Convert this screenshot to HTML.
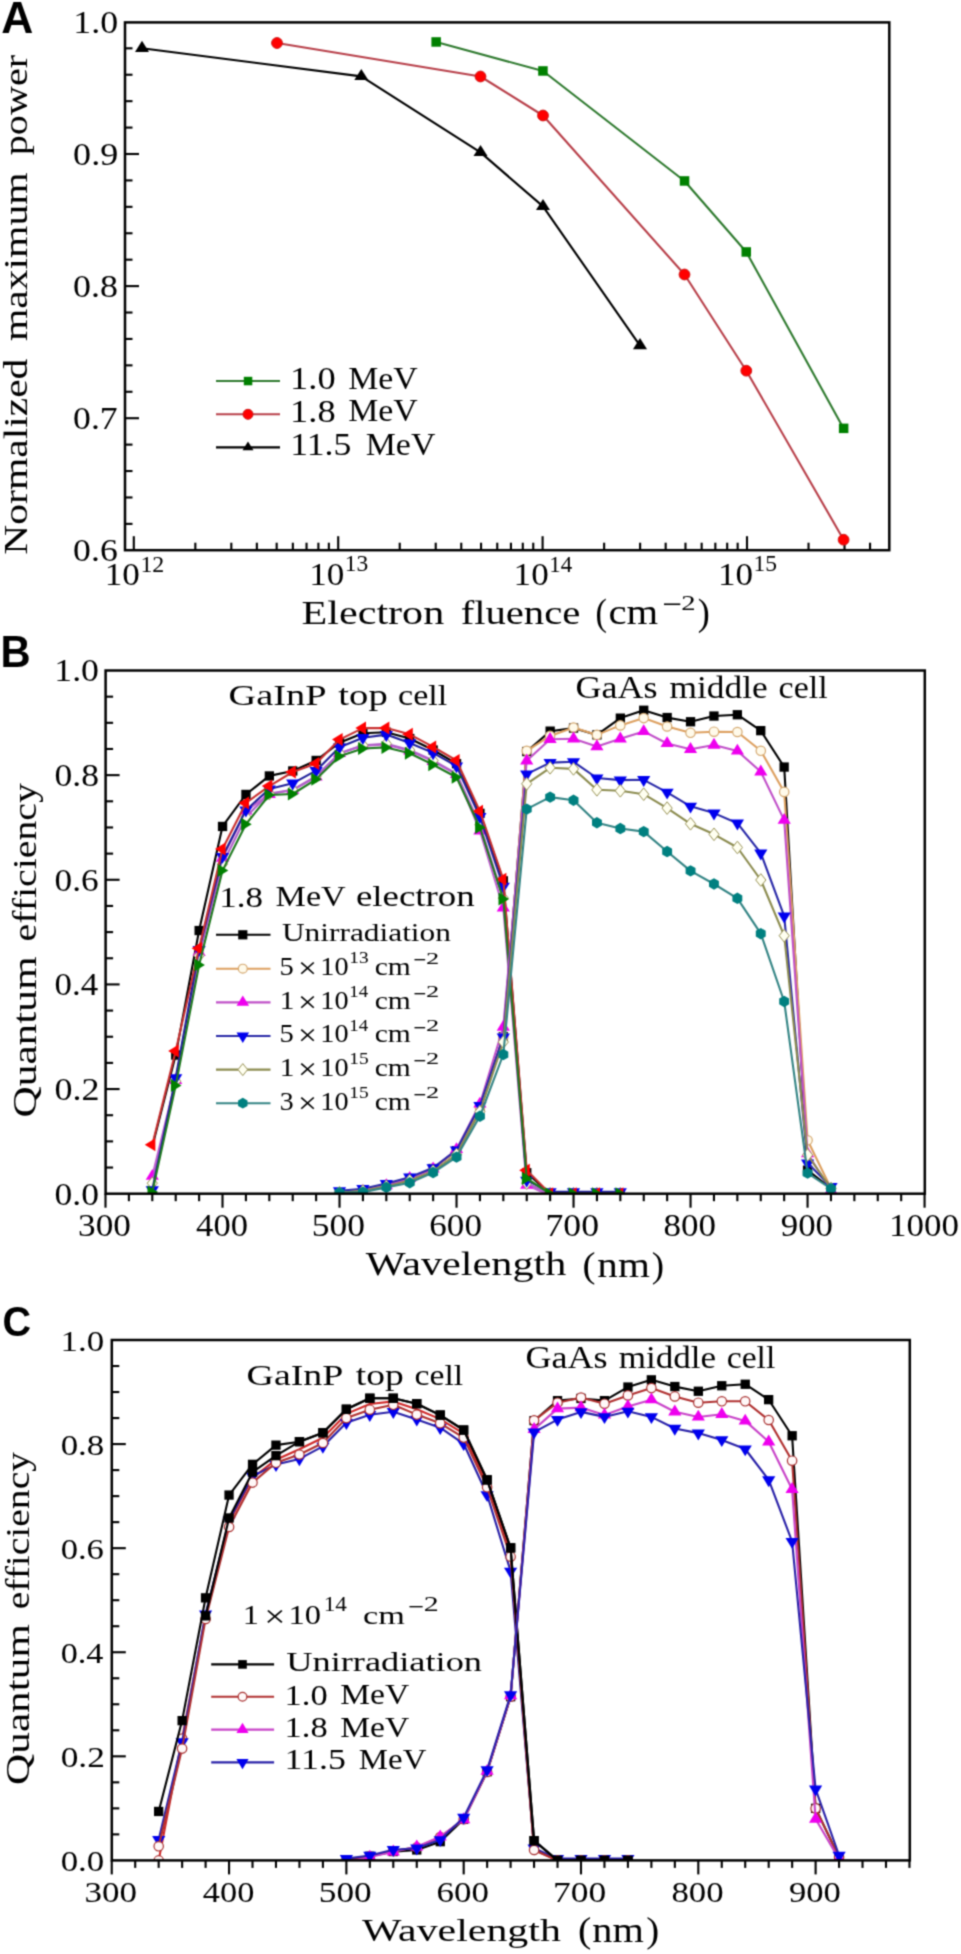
<!DOCTYPE html>
<html><head><meta charset="utf-8"><style>html,body{margin:0;padding:0;background:#fff;overflow:hidden;}svg{display:block;}</style></head>
<body><svg width="961" height="1954" viewBox="0 0 961 1954">
<defs><filter id="bl" filterUnits="userSpaceOnUse" x="0" y="0" width="961" height="1954" color-interpolation-filters="sRGB"><feConvolveMatrix order="3" kernelMatrix="0.0400 0.1200 0.0400 0.1200 0.3600 0.1200 0.0400 0.1200 0.0400" divisor="1" edgeMode="duplicate"/></filter></defs><g filter="url(#bl)"><rect x="0" y="0" width="961" height="1954" fill="#fff"/>
<text x="1.29" y="32.50" font-family='"Liberation Sans", sans-serif' font-weight="bold" font-size="43.75" textLength="32.08" lengthAdjust="spacingAndGlyphs" fill="#000">A</text>
<rect x="125.0" y="22.4" width="764.3" height="527.8" fill="none" stroke="#000" stroke-width="2.5"/>
<line x1="125.00" y1="523.88" x2="132.50" y2="523.88" stroke="#000" stroke-width="2.10"/>
<line x1="125.00" y1="497.46" x2="132.50" y2="497.46" stroke="#000" stroke-width="2.10"/>
<line x1="125.00" y1="471.04" x2="132.50" y2="471.04" stroke="#000" stroke-width="2.10"/>
<line x1="125.00" y1="444.62" x2="132.50" y2="444.62" stroke="#000" stroke-width="2.10"/>
<line x1="125.00" y1="418.20" x2="139.00" y2="418.20" stroke="#000" stroke-width="2.10"/>
<line x1="125.00" y1="391.78" x2="132.50" y2="391.78" stroke="#000" stroke-width="2.10"/>
<line x1="125.00" y1="365.36" x2="132.50" y2="365.36" stroke="#000" stroke-width="2.10"/>
<line x1="125.00" y1="338.94" x2="132.50" y2="338.94" stroke="#000" stroke-width="2.10"/>
<line x1="125.00" y1="312.52" x2="132.50" y2="312.52" stroke="#000" stroke-width="2.10"/>
<line x1="125.00" y1="286.10" x2="139.00" y2="286.10" stroke="#000" stroke-width="2.10"/>
<line x1="125.00" y1="259.68" x2="132.50" y2="259.68" stroke="#000" stroke-width="2.10"/>
<line x1="125.00" y1="233.26" x2="132.50" y2="233.26" stroke="#000" stroke-width="2.10"/>
<line x1="125.00" y1="206.84" x2="132.50" y2="206.84" stroke="#000" stroke-width="2.10"/>
<line x1="125.00" y1="180.42" x2="132.50" y2="180.42" stroke="#000" stroke-width="2.10"/>
<line x1="125.00" y1="154.00" x2="139.00" y2="154.00" stroke="#000" stroke-width="2.10"/>
<line x1="125.00" y1="127.58" x2="132.50" y2="127.58" stroke="#000" stroke-width="2.10"/>
<line x1="125.00" y1="101.16" x2="132.50" y2="101.16" stroke="#000" stroke-width="2.10"/>
<line x1="125.00" y1="74.74" x2="132.50" y2="74.74" stroke="#000" stroke-width="2.10"/>
<line x1="125.00" y1="48.32" x2="132.50" y2="48.32" stroke="#000" stroke-width="2.10"/>
<text x="73.25" y="32.76" font-family='"Liberation Serif", serif' font-size="30.92" textLength="44.82" lengthAdjust="spacingAndGlyphs" fill="#000">1.0</text>
<text x="73.13" y="164.86" font-family='"Liberation Serif", serif' font-size="30.92" textLength="45.05" lengthAdjust="spacingAndGlyphs" fill="#000">0.9</text>
<text x="73.13" y="296.96" font-family='"Liberation Serif", serif' font-size="30.92" textLength="44.94" lengthAdjust="spacingAndGlyphs" fill="#000">0.8</text>
<text x="73.14" y="429.06" font-family='"Liberation Serif", serif' font-size="30.92" textLength="44.59" lengthAdjust="spacingAndGlyphs" fill="#000">0.7</text>
<text x="73.14" y="561.16" font-family='"Liberation Serif", serif' font-size="30.92" textLength="44.62" lengthAdjust="spacingAndGlyphs" fill="#000">0.6</text>
<line x1="133.80" y1="550.20" x2="133.80" y2="536.20" stroke="#000" stroke-width="2.10"/>
<line x1="195.33" y1="550.20" x2="195.33" y2="542.70" stroke="#000" stroke-width="2.10"/>
<line x1="231.32" y1="550.20" x2="231.32" y2="542.70" stroke="#000" stroke-width="2.10"/>
<line x1="256.86" y1="550.20" x2="256.86" y2="542.70" stroke="#000" stroke-width="2.10"/>
<line x1="276.67" y1="550.20" x2="276.67" y2="542.70" stroke="#000" stroke-width="2.10"/>
<line x1="292.85" y1="550.20" x2="292.85" y2="542.70" stroke="#000" stroke-width="2.10"/>
<line x1="306.54" y1="550.20" x2="306.54" y2="542.70" stroke="#000" stroke-width="2.10"/>
<line x1="318.39" y1="550.20" x2="318.39" y2="542.70" stroke="#000" stroke-width="2.10"/>
<line x1="328.85" y1="550.20" x2="328.85" y2="542.70" stroke="#000" stroke-width="2.10"/>
<line x1="338.20" y1="550.20" x2="338.20" y2="536.20" stroke="#000" stroke-width="2.10"/>
<line x1="399.73" y1="550.20" x2="399.73" y2="542.70" stroke="#000" stroke-width="2.10"/>
<line x1="435.72" y1="550.20" x2="435.72" y2="542.70" stroke="#000" stroke-width="2.10"/>
<line x1="461.26" y1="550.20" x2="461.26" y2="542.70" stroke="#000" stroke-width="2.10"/>
<line x1="481.07" y1="550.20" x2="481.07" y2="542.70" stroke="#000" stroke-width="2.10"/>
<line x1="497.25" y1="550.20" x2="497.25" y2="542.70" stroke="#000" stroke-width="2.10"/>
<line x1="510.94" y1="550.20" x2="510.94" y2="542.70" stroke="#000" stroke-width="2.10"/>
<line x1="522.79" y1="550.20" x2="522.79" y2="542.70" stroke="#000" stroke-width="2.10"/>
<line x1="533.25" y1="550.20" x2="533.25" y2="542.70" stroke="#000" stroke-width="2.10"/>
<line x1="542.60" y1="550.20" x2="542.60" y2="536.20" stroke="#000" stroke-width="2.10"/>
<line x1="604.13" y1="550.20" x2="604.13" y2="542.70" stroke="#000" stroke-width="2.10"/>
<line x1="640.12" y1="550.20" x2="640.12" y2="542.70" stroke="#000" stroke-width="2.10"/>
<line x1="665.66" y1="550.20" x2="665.66" y2="542.70" stroke="#000" stroke-width="2.10"/>
<line x1="685.47" y1="550.20" x2="685.47" y2="542.70" stroke="#000" stroke-width="2.10"/>
<line x1="701.65" y1="550.20" x2="701.65" y2="542.70" stroke="#000" stroke-width="2.10"/>
<line x1="715.34" y1="550.20" x2="715.34" y2="542.70" stroke="#000" stroke-width="2.10"/>
<line x1="727.19" y1="550.20" x2="727.19" y2="542.70" stroke="#000" stroke-width="2.10"/>
<line x1="737.65" y1="550.20" x2="737.65" y2="542.70" stroke="#000" stroke-width="2.10"/>
<line x1="747.00" y1="550.20" x2="747.00" y2="536.20" stroke="#000" stroke-width="2.10"/>
<line x1="808.53" y1="550.20" x2="808.53" y2="542.70" stroke="#000" stroke-width="2.10"/>
<line x1="844.52" y1="550.20" x2="844.52" y2="542.70" stroke="#000" stroke-width="2.10"/>
<line x1="870.06" y1="550.20" x2="870.06" y2="542.70" stroke="#000" stroke-width="2.10"/>
<text x="104.81" y="585.39" font-family='"Liberation Serif", serif' font-size="31.27" textLength="35.12" lengthAdjust="spacingAndGlyphs" fill="#000">10</text>
<text x="140.40" y="571.70" font-family='"Liberation Serif", serif' font-size="23.11" textLength="23.92" lengthAdjust="spacingAndGlyphs" fill="#000">12</text>
<text x="309.21" y="585.39" font-family='"Liberation Serif", serif' font-size="31.27" textLength="35.12" lengthAdjust="spacingAndGlyphs" fill="#000">10</text>
<text x="344.84" y="571.48" font-family='"Liberation Serif", serif' font-size="22.77" textLength="23.48" lengthAdjust="spacingAndGlyphs" fill="#000">13</text>
<text x="513.61" y="585.39" font-family='"Liberation Serif", serif' font-size="31.27" textLength="35.12" lengthAdjust="spacingAndGlyphs" fill="#000">10</text>
<text x="549.29" y="571.70" font-family='"Liberation Serif", serif' font-size="23.18" textLength="22.87" lengthAdjust="spacingAndGlyphs" fill="#000">14</text>
<text x="718.01" y="585.39" font-family='"Liberation Serif", serif' font-size="31.27" textLength="35.12" lengthAdjust="spacingAndGlyphs" fill="#000">10</text>
<text x="753.64" y="571.48" font-family='"Liberation Serif", serif' font-size="22.84" textLength="23.48" lengthAdjust="spacingAndGlyphs" fill="#000">15</text>
<text x="301.59" y="624.26" font-family='"Liberation Serif", serif' font-size="34.32" textLength="142.65" lengthAdjust="spacingAndGlyphs" fill="#000">Electron</text>
<text x="460.65" y="624.26" font-family='"Liberation Serif", serif' font-size="34.32" textLength="119.66" lengthAdjust="spacingAndGlyphs" fill="#000">fluence</text>
<text x="595.49" y="625.25" font-family='"Liberation Serif", serif' font-size="37.83" textLength="11.41" lengthAdjust="spacingAndGlyphs" fill="#000">(</text>
<text x="608.45" y="624.45" font-family='"Liberation Serif", serif' font-size="35.97" textLength="49.68" lengthAdjust="spacingAndGlyphs" fill="#000">cm</text>
<text x="661.96" y="615.37" font-family='"Liberation Serif", serif' font-size="32.13" textLength="19.75" lengthAdjust="spacingAndGlyphs" fill="#000">−</text>
<text x="681.24" y="610.00" font-family='"Liberation Serif", serif' font-size="21.45" textLength="14.34" lengthAdjust="spacingAndGlyphs" fill="#000">2</text>
<text x="697.83" y="625.25" font-family='"Liberation Serif", serif' font-size="37.83" textLength="12.06" lengthAdjust="spacingAndGlyphs" fill="#000">)</text>
<text transform="translate(26.62,554.70) rotate(-90)" x="0" y="0" font-family='"Liberation Serif", serif' font-size="33.75" textLength="196.10" lengthAdjust="spacingAndGlyphs" fill="#000">Normalized</text>
<text transform="translate(26.62,341.07) rotate(-90)" x="0" y="0" font-family='"Liberation Serif", serif' font-size="33.75" textLength="168.72" lengthAdjust="spacingAndGlyphs" fill="#000">maximum</text>
<text transform="translate(26.62,155.25) rotate(-90)" x="0" y="0" font-family='"Liberation Serif", serif' font-size="33.75" textLength="100.50" lengthAdjust="spacingAndGlyphs" fill="#000">power</text>
<polyline points="436.2,42.0 543.0,71.0 684.5,181.0 746.3,252.0 843.6,428.4" fill="none" stroke="#2f7a2f" stroke-width="2.10" stroke-linejoin="round"/>
<polyline points="277.0,43.0 480.5,76.5 543.0,115.5 684.5,274.5 746.3,370.7 843.6,539.7" fill="none" stroke="#b8404a" stroke-width="2.10" stroke-linejoin="round"/>
<polyline points="142.0,48.3 361.3,76.4 480.5,152.4 543.0,206.4 640.0,345.6" fill="none" stroke="#000" stroke-width="2.10" stroke-linejoin="round"/>
<rect x="431.4" y="37.2" width="9.5" height="9.5" fill="#008000"/>
<rect x="538.2" y="66.2" width="9.5" height="9.5" fill="#008000"/>
<rect x="679.8" y="176.2" width="9.5" height="9.5" fill="#008000"/>
<rect x="741.5" y="247.2" width="9.5" height="9.5" fill="#008000"/>
<rect x="838.9" y="423.6" width="9.5" height="9.5" fill="#008000"/>
<circle cx="277.0" cy="43.0" r="5.4" fill="#ff0000" stroke="#d01818" stroke-width="1"/>
<circle cx="480.5" cy="76.5" r="5.4" fill="#ff0000" stroke="#d01818" stroke-width="1"/>
<circle cx="543.0" cy="115.5" r="5.4" fill="#ff0000" stroke="#d01818" stroke-width="1"/>
<circle cx="684.5" cy="274.5" r="5.4" fill="#ff0000" stroke="#d01818" stroke-width="1"/>
<circle cx="746.3" cy="370.7" r="5.4" fill="#ff0000" stroke="#d01818" stroke-width="1"/>
<circle cx="843.6" cy="539.7" r="5.4" fill="#ff0000" stroke="#d01818" stroke-width="1"/>
<polygon points="142.0,40.8 149.0,52.0 135.0,52.0" fill="#000"/>
<polygon points="361.3,68.9 368.3,80.1 354.3,80.1" fill="#000"/>
<polygon points="480.5,144.9 487.5,156.1 473.5,156.1" fill="#000"/>
<polygon points="543.0,198.9 550.0,210.1 536.0,210.1" fill="#000"/>
<polygon points="640.0,338.1 647.0,349.3 633.0,349.3" fill="#000"/>
<line x1="216.00" y1="381.00" x2="280.00" y2="381.00" stroke="#2f7a2f" stroke-width="2.10"/>
<rect x="243.8" y="376.8" width="8.5" height="8.5" fill="#008000"/>
<line x1="216.00" y1="414.30" x2="280.00" y2="414.30" stroke="#b8404a" stroke-width="2.10"/>
<circle cx="248.0" cy="414.3" r="5" fill="#ff0000" stroke="#d01818" stroke-width="1"/>
<line x1="216.00" y1="447.40" x2="280.00" y2="447.40" stroke="#000" stroke-width="2.10"/>
<polygon points="248.0,441.5 253.5,450.3 242.5,450.3" fill="#000"/>
<text x="290.10" y="389.37" font-family='"Liberation Serif", serif' font-size="30.62" textLength="45.48" lengthAdjust="spacingAndGlyphs" fill="#000">1.0</text>
<text x="348.23" y="388.73" font-family='"Liberation Serif", serif' font-size="31.35" textLength="69.56" lengthAdjust="spacingAndGlyphs" fill="#000">MeV</text>
<text x="290.10" y="422.07" font-family='"Liberation Serif", serif' font-size="30.62" textLength="45.48" lengthAdjust="spacingAndGlyphs" fill="#000">1.8</text>
<text x="348.23" y="421.43" font-family='"Liberation Serif", serif' font-size="31.35" textLength="69.56" lengthAdjust="spacingAndGlyphs" fill="#000">MeV</text>
<text x="290.23" y="455.37" font-family='"Liberation Serif", serif' font-size="30.70" textLength="61.14" lengthAdjust="spacingAndGlyphs" fill="#000">11.5</text>
<text x="365.72" y="454.73" font-family='"Liberation Serif", serif' font-size="31.20" textLength="69.66" lengthAdjust="spacingAndGlyphs" fill="#000">MeV</text>
<text x="0.61" y="666.90" font-family='"Liberation Sans", sans-serif' font-weight="bold" font-size="43.46" textLength="30.08" lengthAdjust="spacingAndGlyphs" fill="#000">B</text>
<line x1="105.60" y1="1167.54" x2="113.10" y2="1167.54" stroke="#000" stroke-width="2.10"/>
<line x1="105.60" y1="1141.38" x2="113.10" y2="1141.38" stroke="#000" stroke-width="2.10"/>
<line x1="105.60" y1="1115.22" x2="113.10" y2="1115.22" stroke="#000" stroke-width="2.10"/>
<line x1="105.60" y1="1089.06" x2="119.60" y2="1089.06" stroke="#000" stroke-width="2.10"/>
<line x1="105.60" y1="1062.90" x2="113.10" y2="1062.90" stroke="#000" stroke-width="2.10"/>
<line x1="105.60" y1="1036.74" x2="113.10" y2="1036.74" stroke="#000" stroke-width="2.10"/>
<line x1="105.60" y1="1010.58" x2="113.10" y2="1010.58" stroke="#000" stroke-width="2.10"/>
<line x1="105.60" y1="984.42" x2="119.60" y2="984.42" stroke="#000" stroke-width="2.10"/>
<line x1="105.60" y1="958.26" x2="113.10" y2="958.26" stroke="#000" stroke-width="2.10"/>
<line x1="105.60" y1="932.10" x2="113.10" y2="932.10" stroke="#000" stroke-width="2.10"/>
<line x1="105.60" y1="905.94" x2="113.10" y2="905.94" stroke="#000" stroke-width="2.10"/>
<line x1="105.60" y1="879.78" x2="119.60" y2="879.78" stroke="#000" stroke-width="2.10"/>
<line x1="105.60" y1="853.62" x2="113.10" y2="853.62" stroke="#000" stroke-width="2.10"/>
<line x1="105.60" y1="827.46" x2="113.10" y2="827.46" stroke="#000" stroke-width="2.10"/>
<line x1="105.60" y1="801.30" x2="113.10" y2="801.30" stroke="#000" stroke-width="2.10"/>
<line x1="105.60" y1="775.14" x2="119.60" y2="775.14" stroke="#000" stroke-width="2.10"/>
<line x1="105.60" y1="748.98" x2="113.10" y2="748.98" stroke="#000" stroke-width="2.10"/>
<line x1="105.60" y1="722.82" x2="113.10" y2="722.82" stroke="#000" stroke-width="2.10"/>
<line x1="105.60" y1="696.66" x2="113.10" y2="696.66" stroke="#000" stroke-width="2.10"/>
<text x="54.55" y="1204.56" font-family='"Liberation Serif", serif' font-size="30.77" textLength="44.41" lengthAdjust="spacingAndGlyphs" fill="#000">0.0</text>
<text x="54.53" y="1099.92" font-family='"Liberation Serif", serif' font-size="30.77" textLength="45.06" lengthAdjust="spacingAndGlyphs" fill="#000">0.2</text>
<text x="54.57" y="995.28" font-family='"Liberation Serif", serif' font-size="30.77" textLength="43.57" lengthAdjust="spacingAndGlyphs" fill="#000">0.4</text>
<text x="54.56" y="890.64" font-family='"Liberation Serif", serif' font-size="30.77" textLength="44.09" lengthAdjust="spacingAndGlyphs" fill="#000">0.6</text>
<text x="54.55" y="786.00" font-family='"Liberation Serif", serif' font-size="30.77" textLength="44.41" lengthAdjust="spacingAndGlyphs" fill="#000">0.8</text>
<text x="54.26" y="681.36" font-family='"Liberation Serif", serif' font-size="30.77" textLength="44.71" lengthAdjust="spacingAndGlyphs" fill="#000">1.0</text>
<line x1="105.50" y1="1193.70" x2="105.50" y2="1207.70" stroke="#000" stroke-width="2.10"/>
<line x1="128.90" y1="1193.70" x2="128.90" y2="1201.20" stroke="#000" stroke-width="2.10"/>
<line x1="152.30" y1="1193.70" x2="152.30" y2="1201.20" stroke="#000" stroke-width="2.10"/>
<line x1="175.71" y1="1193.70" x2="175.71" y2="1201.20" stroke="#000" stroke-width="2.10"/>
<line x1="199.11" y1="1193.70" x2="199.11" y2="1201.20" stroke="#000" stroke-width="2.10"/>
<line x1="222.51" y1="1193.70" x2="222.51" y2="1207.70" stroke="#000" stroke-width="2.10"/>
<line x1="245.91" y1="1193.70" x2="245.91" y2="1201.20" stroke="#000" stroke-width="2.10"/>
<line x1="269.31" y1="1193.70" x2="269.31" y2="1201.20" stroke="#000" stroke-width="2.10"/>
<line x1="292.72" y1="1193.70" x2="292.72" y2="1201.20" stroke="#000" stroke-width="2.10"/>
<line x1="316.12" y1="1193.70" x2="316.12" y2="1201.20" stroke="#000" stroke-width="2.10"/>
<line x1="339.52" y1="1193.70" x2="339.52" y2="1207.70" stroke="#000" stroke-width="2.10"/>
<line x1="362.92" y1="1193.70" x2="362.92" y2="1201.20" stroke="#000" stroke-width="2.10"/>
<line x1="386.32" y1="1193.70" x2="386.32" y2="1201.20" stroke="#000" stroke-width="2.10"/>
<line x1="409.73" y1="1193.70" x2="409.73" y2="1201.20" stroke="#000" stroke-width="2.10"/>
<line x1="433.13" y1="1193.70" x2="433.13" y2="1201.20" stroke="#000" stroke-width="2.10"/>
<line x1="456.53" y1="1193.70" x2="456.53" y2="1207.70" stroke="#000" stroke-width="2.10"/>
<line x1="479.93" y1="1193.70" x2="479.93" y2="1201.20" stroke="#000" stroke-width="2.10"/>
<line x1="503.33" y1="1193.70" x2="503.33" y2="1201.20" stroke="#000" stroke-width="2.10"/>
<line x1="526.74" y1="1193.70" x2="526.74" y2="1201.20" stroke="#000" stroke-width="2.10"/>
<line x1="550.14" y1="1193.70" x2="550.14" y2="1201.20" stroke="#000" stroke-width="2.10"/>
<line x1="573.54" y1="1193.70" x2="573.54" y2="1207.70" stroke="#000" stroke-width="2.10"/>
<line x1="596.94" y1="1193.70" x2="596.94" y2="1201.20" stroke="#000" stroke-width="2.10"/>
<line x1="620.34" y1="1193.70" x2="620.34" y2="1201.20" stroke="#000" stroke-width="2.10"/>
<line x1="643.75" y1="1193.70" x2="643.75" y2="1201.20" stroke="#000" stroke-width="2.10"/>
<line x1="667.15" y1="1193.70" x2="667.15" y2="1201.20" stroke="#000" stroke-width="2.10"/>
<line x1="690.55" y1="1193.70" x2="690.55" y2="1207.70" stroke="#000" stroke-width="2.10"/>
<line x1="713.95" y1="1193.70" x2="713.95" y2="1201.20" stroke="#000" stroke-width="2.10"/>
<line x1="737.35" y1="1193.70" x2="737.35" y2="1201.20" stroke="#000" stroke-width="2.10"/>
<line x1="760.76" y1="1193.70" x2="760.76" y2="1201.20" stroke="#000" stroke-width="2.10"/>
<line x1="784.16" y1="1193.70" x2="784.16" y2="1201.20" stroke="#000" stroke-width="2.10"/>
<line x1="807.56" y1="1193.70" x2="807.56" y2="1207.70" stroke="#000" stroke-width="2.10"/>
<line x1="830.96" y1="1193.70" x2="830.96" y2="1201.20" stroke="#000" stroke-width="2.10"/>
<line x1="854.36" y1="1193.70" x2="854.36" y2="1201.20" stroke="#000" stroke-width="2.10"/>
<line x1="877.77" y1="1193.70" x2="877.77" y2="1201.20" stroke="#000" stroke-width="2.10"/>
<line x1="901.17" y1="1193.70" x2="901.17" y2="1201.20" stroke="#000" stroke-width="2.10"/>
<line x1="924.57" y1="1193.70" x2="924.57" y2="1207.70" stroke="#000" stroke-width="2.10"/>
<text x="78.11" y="1236.28" font-family='"Liberation Serif", serif' font-size="32.31" textLength="52.83" lengthAdjust="spacingAndGlyphs" fill="#000">300</text>
<text x="196.14" y="1236.28" font-family='"Liberation Serif", serif' font-size="32.31" textLength="51.79" lengthAdjust="spacingAndGlyphs" fill="#000">400</text>
<text x="311.76" y="1236.28" font-family='"Liberation Serif", serif' font-size="32.31" textLength="53.21" lengthAdjust="spacingAndGlyphs" fill="#000">500</text>
<text x="429.32" y="1236.28" font-family='"Liberation Serif", serif' font-size="32.31" textLength="52.64" lengthAdjust="spacingAndGlyphs" fill="#000">600</text>
<text x="545.49" y="1236.28" font-family='"Liberation Serif", serif' font-size="32.31" textLength="53.51" lengthAdjust="spacingAndGlyphs" fill="#000">700</text>
<text x="663.52" y="1236.28" font-family='"Liberation Serif", serif' font-size="32.31" textLength="52.46" lengthAdjust="spacingAndGlyphs" fill="#000">800</text>
<text x="780.74" y="1236.28" font-family='"Liberation Serif", serif' font-size="32.31" textLength="52.25" lengthAdjust="spacingAndGlyphs" fill="#000">900</text>
<text x="889.13" y="1236.28" font-family='"Liberation Serif", serif' font-size="32.31" textLength="69.90" lengthAdjust="spacingAndGlyphs" fill="#000">1000</text>
<text transform="translate(35.66,1117.47) rotate(-90)" x="0" y="0" font-family='"Liberation Serif", serif' font-size="34.02" textLength="161.05" lengthAdjust="spacingAndGlyphs" fill="#000">Quantum</text>
<text transform="translate(35.66,941.45) rotate(-90)" x="0" y="0" font-family='"Liberation Serif", serif' font-size="34.02" textLength="158.30" lengthAdjust="spacingAndGlyphs" fill="#000">efficiency</text>
<text x="365.76" y="1275.26" font-family='"Liberation Serif", serif' font-size="33.53" textLength="200.59" lengthAdjust="spacingAndGlyphs" fill="#000">Wavelength</text>
<text x="582.49" y="1277.18" font-family='"Liberation Serif", serif' font-size="36.73" textLength="12.97" lengthAdjust="spacingAndGlyphs" fill="#000">(</text>
<text x="597.36" y="1277.18" font-family='"Liberation Serif", serif' font-size="36.73" textLength="52.48" lengthAdjust="spacingAndGlyphs" fill="#000">nm</text>
<text x="651.81" y="1277.18" font-family='"Liberation Serif", serif' font-size="36.73" textLength="12.32" lengthAdjust="spacingAndGlyphs" fill="#000">)</text>
<text x="228.63" y="704.85" font-family='"Liberation Serif", serif' font-size="30.05" textLength="97.91" lengthAdjust="spacingAndGlyphs" fill="#000">GaInP</text>
<text x="338.37" y="704.85" font-family='"Liberation Serif", serif' font-size="30.05" textLength="49.39" lengthAdjust="spacingAndGlyphs" fill="#000">top</text>
<text x="398.11" y="704.85" font-family='"Liberation Serif", serif' font-size="30.05" textLength="49.08" lengthAdjust="spacingAndGlyphs" fill="#000">cell</text>
<text x="575.42" y="697.70" font-family='"Liberation Serif", serif' font-size="30.56" textLength="82.08" lengthAdjust="spacingAndGlyphs" fill="#000">GaAs</text>
<text x="669.56" y="697.70" font-family='"Liberation Serif", serif' font-size="30.56" textLength="98.07" lengthAdjust="spacingAndGlyphs" fill="#000">middle</text>
<text x="778.61" y="697.70" font-family='"Liberation Serif", serif' font-size="30.56" textLength="48.97" lengthAdjust="spacingAndGlyphs" fill="#000">cell</text>
<clipPath id="clipB"><rect x="105.6" y="670.5" width="819.2" height="523.2"/></clipPath><g clip-path="url(#clipB)">
<polyline points="152.3,1146.6 175.7,1055.1 199.1,930.5 222.5,826.4 245.9,794.5 269.3,775.9 292.7,771.0 316.1,760.5 339.5,742.7 362.9,733.3 386.3,732.2 409.7,738.5 433.1,750.0 456.5,763.6 479.9,813.3 503.3,880.8 526.7,1172.8 550.1,1193.7 573.5,1193.7 596.9,1193.7 620.3,1193.7" fill="none" stroke="#000" stroke-width="2.10" stroke-linejoin="round"/>
<rect x="171.1" y="1050.4" width="9.3" height="9.3" fill="#000"/>
<rect x="194.5" y="925.9" width="9.3" height="9.3" fill="#000"/>
<rect x="217.9" y="821.8" width="9.3" height="9.3" fill="#000"/>
<rect x="241.3" y="789.8" width="9.3" height="9.3" fill="#000"/>
<rect x="264.7" y="771.3" width="9.3" height="9.3" fill="#000"/>
<rect x="288.1" y="766.3" width="9.3" height="9.3" fill="#000"/>
<rect x="311.5" y="755.8" width="9.3" height="9.3" fill="#000"/>
<rect x="334.9" y="738.1" width="9.3" height="9.3" fill="#000"/>
<rect x="358.3" y="728.6" width="9.3" height="9.3" fill="#000"/>
<rect x="381.7" y="727.6" width="9.3" height="9.3" fill="#000"/>
<rect x="405.1" y="733.9" width="9.3" height="9.3" fill="#000"/>
<rect x="428.5" y="745.4" width="9.3" height="9.3" fill="#000"/>
<rect x="451.9" y="759.0" width="9.3" height="9.3" fill="#000"/>
<rect x="475.3" y="808.7" width="9.3" height="9.3" fill="#000"/>
<rect x="498.7" y="876.2" width="9.3" height="9.3" fill="#000"/>
<rect x="522.1" y="1168.1" width="9.3" height="9.3" fill="#000"/>
<rect x="545.5" y="1189.0" width="9.3" height="9.3" fill="#000"/>
<rect x="568.9" y="1189.0" width="9.3" height="9.3" fill="#000"/>
<rect x="592.3" y="1189.0" width="9.3" height="9.3" fill="#000"/>
<rect x="615.7" y="1189.0" width="9.3" height="9.3" fill="#000"/>
<polyline points="152.3,1176.2 175.7,1080.4 199.1,952.2 222.5,858.1 245.9,811.0 269.3,794.2 292.7,790.0 316.1,777.0 339.5,753.4 362.9,745.6 386.3,744.5 409.7,750.8 433.1,761.3 456.5,774.3 479.9,830.8 503.3,907.8 526.7,1185.1 550.1,1195.5 573.5,1195.5 596.9,1195.5 620.3,1195.5" fill="none" stroke="#c060d0" stroke-width="2.10" stroke-linejoin="round"/>
<polygon points="152.3,1168.9 158.9,1179.8 145.7,1179.8" fill="#ee00ee"/>
<polygon points="175.7,1073.1 182.3,1084.0 169.1,1084.0" fill="#ee00ee"/>
<polygon points="199.1,945.0 205.7,955.9 192.5,955.9" fill="#ee00ee"/>
<polygon points="222.5,850.8 229.1,861.7 215.9,861.7" fill="#ee00ee"/>
<polygon points="245.9,803.7 252.5,814.6 239.3,814.6" fill="#ee00ee"/>
<polygon points="269.3,787.0 275.9,797.9 262.7,797.9" fill="#ee00ee"/>
<polygon points="292.7,782.8 299.3,793.7 286.1,793.7" fill="#ee00ee"/>
<polygon points="316.1,769.7 322.7,780.6 309.5,780.6" fill="#ee00ee"/>
<polygon points="339.5,746.1 346.1,757.0 332.9,757.0" fill="#ee00ee"/>
<polygon points="362.9,738.3 369.5,749.2 356.3,749.2" fill="#ee00ee"/>
<polygon points="386.3,737.3 392.9,748.2 379.7,748.2" fill="#ee00ee"/>
<polygon points="409.7,743.5 416.3,754.4 403.1,754.4" fill="#ee00ee"/>
<polygon points="433.1,754.0 439.7,764.9 426.5,764.9" fill="#ee00ee"/>
<polygon points="456.5,767.1 463.1,778.0 449.9,778.0" fill="#ee00ee"/>
<polygon points="479.9,823.6 486.5,834.5 473.3,834.5" fill="#ee00ee"/>
<polygon points="503.3,900.5 509.9,911.4 496.7,911.4" fill="#ee00ee"/>
<polygon points="526.7,1177.8 533.3,1188.7 520.1,1188.7" fill="#ee00ee"/>
<polygon points="550.1,1188.2 556.7,1199.2 543.5,1199.2" fill="#ee00ee"/>
<polygon points="573.5,1188.2 580.1,1199.2 566.9,1199.2" fill="#ee00ee"/>
<polygon points="596.9,1188.2 603.5,1199.2 590.3,1199.2" fill="#ee00ee"/>
<polygon points="620.3,1188.2 626.9,1199.2 613.7,1199.2" fill="#ee00ee"/>
<polyline points="152.3,1183.2 175.7,1081.2 199.1,955.6 222.5,864.1 245.9,817.0 269.3,793.5 292.7,789.8 316.1,776.2 339.5,753.2 362.9,745.3 386.3,743.7 409.7,750.0 433.1,760.5 456.5,773.6 479.9,824.8 503.3,898.1 526.7,1183.2 550.1,1193.7 573.5,1193.7 596.9,1193.7 620.3,1193.7" fill="none" stroke="#b060c8" stroke-width="2.10" stroke-linejoin="round"/>
<polygon points="152.3,1176.9 157.4,1183.2 152.3,1189.5 147.2,1183.2" fill="#fffff0" stroke="#9a9458" stroke-width="1.0"/>
<polygon points="175.7,1074.9 180.8,1081.2 175.7,1087.5 170.6,1081.2" fill="#fffff0" stroke="#9a9458" stroke-width="1.0"/>
<polygon points="199.1,949.3 204.2,955.6 199.1,961.9 194.0,955.6" fill="#fffff0" stroke="#9a9458" stroke-width="1.0"/>
<polygon points="222.5,857.8 227.6,864.1 222.5,870.4 217.4,864.1" fill="#fffff0" stroke="#9a9458" stroke-width="1.0"/>
<polygon points="245.9,810.7 251.0,817.0 245.9,823.3 240.8,817.0" fill="#fffff0" stroke="#9a9458" stroke-width="1.0"/>
<polygon points="269.3,787.2 274.4,793.5 269.3,799.8 264.2,793.5" fill="#fffff0" stroke="#9a9458" stroke-width="1.0"/>
<polygon points="292.7,783.5 297.8,789.8 292.7,796.1 287.6,789.8" fill="#fffff0" stroke="#9a9458" stroke-width="1.0"/>
<polygon points="316.1,769.9 321.2,776.2 316.1,782.5 311.0,776.2" fill="#fffff0" stroke="#9a9458" stroke-width="1.0"/>
<polygon points="339.5,746.9 344.6,753.2 339.5,759.5 334.4,753.2" fill="#fffff0" stroke="#9a9458" stroke-width="1.0"/>
<polygon points="362.9,739.0 368.0,745.3 362.9,751.6 357.8,745.3" fill="#fffff0" stroke="#9a9458" stroke-width="1.0"/>
<polygon points="386.3,737.4 391.4,743.7 386.3,750.0 381.2,743.7" fill="#fffff0" stroke="#9a9458" stroke-width="1.0"/>
<polygon points="409.7,743.7 414.8,750.0 409.7,756.3 404.6,750.0" fill="#fffff0" stroke="#9a9458" stroke-width="1.0"/>
<polygon points="433.1,754.2 438.2,760.5 433.1,766.8 428.0,760.5" fill="#fffff0" stroke="#9a9458" stroke-width="1.0"/>
<polygon points="456.5,767.3 461.6,773.6 456.5,779.9 451.4,773.6" fill="#fffff0" stroke="#9a9458" stroke-width="1.0"/>
<polygon points="479.9,818.5 485.0,824.8 479.9,831.1 474.8,824.8" fill="#fffff0" stroke="#9a9458" stroke-width="1.0"/>
<polygon points="503.3,891.8 508.4,898.1 503.3,904.4 498.2,898.1" fill="#fffff0" stroke="#9a9458" stroke-width="1.0"/>
<polygon points="526.7,1176.9 531.8,1183.2 526.7,1189.5 521.6,1183.2" fill="#fffff0" stroke="#9a9458" stroke-width="1.0"/>
<polygon points="550.1,1187.4 555.2,1193.7 550.1,1200.0 545.0,1193.7" fill="#fffff0" stroke="#9a9458" stroke-width="1.0"/>
<polygon points="573.5,1187.4 578.6,1193.7 573.5,1200.0 568.4,1193.7" fill="#fffff0" stroke="#9a9458" stroke-width="1.0"/>
<polygon points="596.9,1187.4 602.0,1193.7 596.9,1200.0 591.8,1193.7" fill="#fffff0" stroke="#9a9458" stroke-width="1.0"/>
<polygon points="620.3,1187.4 625.4,1193.7 620.3,1200.0 615.2,1193.7" fill="#fffff0" stroke="#9a9458" stroke-width="1.0"/>
<polyline points="152.3,1189.8 175.7,1077.8 199.1,949.6 222.5,856.5 245.9,810.2 269.3,789.0 292.7,783.3 316.1,770.7 339.5,747.2 362.9,737.7 386.3,734.6 409.7,743.0 433.1,752.9 456.5,766.0 479.9,816.7 503.3,886.3 526.7,1180.4 550.1,1191.9 573.5,1191.9 596.9,1191.9 620.3,1191.9" fill="none" stroke="#20209a" stroke-width="2.10" stroke-linejoin="round"/>
<polygon points="152.3,1197.1 158.9,1186.2 145.7,1186.2" fill="#0000ee"/>
<polygon points="175.7,1085.1 182.3,1074.2 169.1,1074.2" fill="#0000ee"/>
<polygon points="199.1,956.9 205.7,946.0 192.5,946.0" fill="#0000ee"/>
<polygon points="222.5,863.8 229.1,852.9 215.9,852.9" fill="#0000ee"/>
<polygon points="245.9,817.5 252.5,806.6 239.3,806.6" fill="#0000ee"/>
<polygon points="269.3,796.3 275.9,785.4 262.7,785.4" fill="#0000ee"/>
<polygon points="292.7,790.5 299.3,779.6 286.1,779.6" fill="#0000ee"/>
<polygon points="316.1,778.0 322.7,767.1 309.5,767.1" fill="#0000ee"/>
<polygon points="339.5,754.4 346.1,743.5 332.9,743.5" fill="#0000ee"/>
<polygon points="362.9,745.0 369.5,734.1 356.3,734.1" fill="#0000ee"/>
<polygon points="386.3,741.9 392.9,731.0 379.7,731.0" fill="#0000ee"/>
<polygon points="409.7,750.2 416.3,739.3 403.1,739.3" fill="#0000ee"/>
<polygon points="433.1,760.2 439.7,749.3 426.5,749.3" fill="#0000ee"/>
<polygon points="456.5,773.3 463.1,762.4 449.9,762.4" fill="#0000ee"/>
<polygon points="479.9,824.0 486.5,813.1 473.3,813.1" fill="#0000ee"/>
<polygon points="503.3,893.6 509.9,882.7 496.7,882.7" fill="#0000ee"/>
<polygon points="526.7,1187.6 533.3,1176.7 520.1,1176.7" fill="#0000ee"/>
<polygon points="550.1,1199.2 556.7,1188.2 543.5,1188.2" fill="#0000ee"/>
<polygon points="573.5,1199.2 580.1,1188.2 566.9,1188.2" fill="#0000ee"/>
<polygon points="596.9,1199.2 603.5,1188.2 590.3,1188.2" fill="#0000ee"/>
<polygon points="620.3,1199.2 626.9,1188.2 613.7,1188.2" fill="#0000ee"/>
<polyline points="152.3,1144.8 175.7,1050.9 199.1,948.3 222.5,848.9 245.9,802.9 269.3,786.1 292.7,772.0 316.1,763.6 339.5,739.6 362.9,728.1 386.3,728.1 409.7,734.3 433.1,746.9 456.5,760.5 479.9,811.2 503.3,879.3 526.7,1170.2 550.1,1193.7 573.5,1193.7 596.9,1193.7 620.3,1193.7" fill="none" stroke="#c83030" stroke-width="2.10" stroke-linejoin="round"/>
<polygon points="144.8,1144.8 155.4,1138.3 155.4,1151.3" fill="#ff0000"/>
<polygon points="168.2,1050.9 178.8,1044.4 178.8,1057.4" fill="#ff0000"/>
<polygon points="191.6,948.3 202.2,941.8 202.2,954.8" fill="#ff0000"/>
<polygon points="215.0,848.9 225.6,842.4 225.6,855.4" fill="#ff0000"/>
<polygon points="238.4,802.9 249.0,796.4 249.0,809.4" fill="#ff0000"/>
<polygon points="261.8,786.1 272.4,779.6 272.4,792.6" fill="#ff0000"/>
<polygon points="285.2,772.0 295.8,765.5 295.8,778.5" fill="#ff0000"/>
<polygon points="308.6,763.6 319.2,757.1 319.2,770.1" fill="#ff0000"/>
<polygon points="332.0,739.6 342.6,733.1 342.6,746.1" fill="#ff0000"/>
<polygon points="355.4,728.1 366.0,721.6 366.0,734.6" fill="#ff0000"/>
<polygon points="378.8,728.1 389.4,721.6 389.4,734.6" fill="#ff0000"/>
<polygon points="402.2,734.3 412.8,727.8 412.8,740.8" fill="#ff0000"/>
<polygon points="425.6,746.9 436.2,740.4 436.2,753.4" fill="#ff0000"/>
<polygon points="449.0,760.5 459.6,754.0 459.6,767.0" fill="#ff0000"/>
<polygon points="472.4,811.2 483.0,804.7 483.0,817.7" fill="#ff0000"/>
<polygon points="495.8,879.3 506.4,872.8 506.4,885.8" fill="#ff0000"/>
<polygon points="519.2,1170.2 529.8,1163.7 529.8,1176.7" fill="#ff0000"/>
<polygon points="542.6,1193.7 553.2,1187.2 553.2,1200.2" fill="#ff0000"/>
<polygon points="566.0,1193.7 576.6,1187.2 576.6,1200.2" fill="#ff0000"/>
<polygon points="589.4,1193.7 600.0,1187.2 600.0,1200.2" fill="#ff0000"/>
<polygon points="612.8,1193.7 623.4,1187.2 623.4,1200.2" fill="#ff0000"/>
<polyline points="152.3,1192.1 175.7,1085.4 199.1,965.1 222.5,870.6 245.9,824.3 269.3,795.0 292.7,794.0 316.1,779.3 339.5,756.3 362.9,748.5 386.3,747.4 409.7,753.2 433.1,764.7 456.5,777.2 479.9,827.5 503.3,899.1 526.7,1178.5 550.1,1193.7 573.5,1193.7 596.9,1193.7 620.3,1193.7" fill="none" stroke="#1f7a1f" stroke-width="2.10" stroke-linejoin="round"/>
<polygon points="158.1,1192.1 147.5,1185.6 147.5,1198.6" fill="#008000"/>
<polygon points="181.5,1085.4 170.9,1078.9 170.9,1091.9" fill="#008000"/>
<polygon points="204.9,965.1 194.3,958.6 194.3,971.6" fill="#008000"/>
<polygon points="228.3,870.6 217.7,864.1 217.7,877.1" fill="#008000"/>
<polygon points="251.7,824.3 241.1,817.8 241.1,830.8" fill="#008000"/>
<polygon points="275.1,795.0 264.5,788.5 264.5,801.5" fill="#008000"/>
<polygon points="298.5,794.0 287.9,787.5 287.9,800.5" fill="#008000"/>
<polygon points="321.9,779.3 311.3,772.8 311.3,785.8" fill="#008000"/>
<polygon points="345.3,756.3 334.7,749.8 334.7,762.8" fill="#008000"/>
<polygon points="368.7,748.5 358.1,742.0 358.1,755.0" fill="#008000"/>
<polygon points="392.1,747.4 381.5,740.9 381.5,753.9" fill="#008000"/>
<polygon points="415.5,753.2 404.9,746.7 404.9,759.7" fill="#008000"/>
<polygon points="438.9,764.7 428.3,758.2 428.3,771.2" fill="#008000"/>
<polygon points="462.3,777.2 451.7,770.7 451.7,783.7" fill="#008000"/>
<polygon points="485.7,827.5 475.1,821.0 475.1,834.0" fill="#008000"/>
<polygon points="509.1,899.1 498.5,892.6 498.5,905.6" fill="#008000"/>
<polygon points="532.5,1178.5 521.9,1172.0 521.9,1185.0" fill="#008000"/>
<polygon points="555.9,1193.7 545.3,1187.2 545.3,1200.2" fill="#008000"/>
<polygon points="579.3,1193.7 568.7,1187.2 568.7,1200.2" fill="#008000"/>
<polygon points="602.7,1193.7 592.1,1187.2 592.1,1200.2" fill="#008000"/>
<polygon points="626.1,1193.7 615.5,1187.2 615.5,1200.2" fill="#008000"/>
<polyline points="339.5,1192.7 362.9,1190.6 386.3,1184.8 409.7,1178.5 433.1,1168.6 456.5,1150.8 479.9,1107.4 503.3,1036.7 526.7,751.6 550.1,731.2 573.5,728.1 596.9,734.9 620.3,718.1 643.7,710.3 667.1,717.6 690.5,721.8 714.0,716.0 737.4,714.7 760.8,730.7 784.2,767.0 807.6,1170.2 831.0,1188.5" fill="none" stroke="#000" stroke-width="2.10" stroke-linejoin="round"/>
<rect x="334.9" y="1188.0" width="9.3" height="9.3" fill="#000"/>
<rect x="358.3" y="1185.9" width="9.3" height="9.3" fill="#000"/>
<rect x="381.7" y="1180.2" width="9.3" height="9.3" fill="#000"/>
<rect x="405.1" y="1173.9" width="9.3" height="9.3" fill="#000"/>
<rect x="428.5" y="1163.9" width="9.3" height="9.3" fill="#000"/>
<rect x="451.9" y="1146.1" width="9.3" height="9.3" fill="#000"/>
<rect x="475.3" y="1102.7" width="9.3" height="9.3" fill="#000"/>
<rect x="498.7" y="1032.1" width="9.3" height="9.3" fill="#000"/>
<rect x="522.1" y="746.9" width="9.3" height="9.3" fill="#000"/>
<rect x="545.5" y="726.5" width="9.3" height="9.3" fill="#000"/>
<rect x="568.9" y="723.4" width="9.3" height="9.3" fill="#000"/>
<rect x="592.3" y="730.2" width="9.3" height="9.3" fill="#000"/>
<rect x="615.7" y="713.5" width="9.3" height="9.3" fill="#000"/>
<rect x="639.1" y="705.6" width="9.3" height="9.3" fill="#000"/>
<rect x="662.5" y="712.9" width="9.3" height="9.3" fill="#000"/>
<rect x="685.9" y="717.1" width="9.3" height="9.3" fill="#000"/>
<rect x="709.3" y="711.4" width="9.3" height="9.3" fill="#000"/>
<rect x="732.7" y="710.1" width="9.3" height="9.3" fill="#000"/>
<rect x="756.1" y="726.0" width="9.3" height="9.3" fill="#000"/>
<rect x="779.5" y="762.4" width="9.3" height="9.3" fill="#000"/>
<rect x="802.9" y="1165.5" width="9.3" height="9.3" fill="#000"/>
<rect x="826.3" y="1183.8" width="9.3" height="9.3" fill="#000"/>
<polyline points="339.5,1192.7 362.9,1190.0 386.3,1184.8 409.7,1178.5 433.1,1168.6 456.5,1150.8 479.9,1107.4 503.3,1036.7 526.7,750.8 550.1,735.9 573.5,727.5 596.9,734.9 620.3,725.4 643.7,718.1 667.1,726.5 690.5,732.8 714.0,731.7 737.4,732.0 760.8,750.8 784.2,791.9 807.6,1140.3 831.0,1188.5" fill="none" stroke="#dda060" stroke-width="2.10" stroke-linejoin="round"/>
<circle cx="339.5" cy="1192.7" r="4.7" fill="#fffaea" stroke="#d4a870" stroke-width="1.2"/>
<circle cx="362.9" cy="1190.0" r="4.7" fill="#fffaea" stroke="#d4a870" stroke-width="1.2"/>
<circle cx="386.3" cy="1184.8" r="4.7" fill="#fffaea" stroke="#d4a870" stroke-width="1.2"/>
<circle cx="409.7" cy="1178.5" r="4.7" fill="#fffaea" stroke="#d4a870" stroke-width="1.2"/>
<circle cx="433.1" cy="1168.6" r="4.7" fill="#fffaea" stroke="#d4a870" stroke-width="1.2"/>
<circle cx="456.5" cy="1150.8" r="4.7" fill="#fffaea" stroke="#d4a870" stroke-width="1.2"/>
<circle cx="479.9" cy="1107.4" r="4.7" fill="#fffaea" stroke="#d4a870" stroke-width="1.2"/>
<circle cx="503.3" cy="1036.7" r="4.7" fill="#fffaea" stroke="#d4a870" stroke-width="1.2"/>
<circle cx="526.7" cy="750.8" r="4.7" fill="#fffaea" stroke="#d4a870" stroke-width="1.2"/>
<circle cx="550.1" cy="735.9" r="4.7" fill="#fffaea" stroke="#d4a870" stroke-width="1.2"/>
<circle cx="573.5" cy="727.5" r="4.7" fill="#fffaea" stroke="#d4a870" stroke-width="1.2"/>
<circle cx="596.9" cy="734.9" r="4.7" fill="#fffaea" stroke="#d4a870" stroke-width="1.2"/>
<circle cx="620.3" cy="725.4" r="4.7" fill="#fffaea" stroke="#d4a870" stroke-width="1.2"/>
<circle cx="643.7" cy="718.1" r="4.7" fill="#fffaea" stroke="#d4a870" stroke-width="1.2"/>
<circle cx="667.1" cy="726.5" r="4.7" fill="#fffaea" stroke="#d4a870" stroke-width="1.2"/>
<circle cx="690.5" cy="732.8" r="4.7" fill="#fffaea" stroke="#d4a870" stroke-width="1.2"/>
<circle cx="714.0" cy="731.7" r="4.7" fill="#fffaea" stroke="#d4a870" stroke-width="1.2"/>
<circle cx="737.4" cy="732.0" r="4.7" fill="#fffaea" stroke="#d4a870" stroke-width="1.2"/>
<circle cx="760.8" cy="750.8" r="4.7" fill="#fffaea" stroke="#d4a870" stroke-width="1.2"/>
<circle cx="784.2" cy="791.9" r="4.7" fill="#fffaea" stroke="#d4a870" stroke-width="1.2"/>
<circle cx="807.6" cy="1140.3" r="4.7" fill="#fffaea" stroke="#d4a870" stroke-width="1.2"/>
<circle cx="831.0" cy="1188.5" r="4.7" fill="#fffaea" stroke="#d4a870" stroke-width="1.2"/>
<polyline points="339.5,1193.9 362.9,1191.3 386.3,1185.6 409.7,1178.3 433.1,1168.8 456.5,1149.5 479.9,1104.0 503.3,1027.0 526.7,760.7 550.1,739.3 573.5,738.8 596.9,746.6 620.3,738.8 643.7,731.4 667.1,743.5 690.5,749.2 714.0,745.0 737.4,751.0 760.8,771.7 784.2,820.1 807.6,1153.7 831.0,1190.3" fill="none" stroke="#c050c8" stroke-width="2.10" stroke-linejoin="round"/>
<polygon points="339.5,1186.7 346.1,1197.6 332.9,1197.6" fill="#ee00ee"/>
<polygon points="362.9,1184.1 369.5,1195.0 356.3,1195.0" fill="#ee00ee"/>
<polygon points="386.3,1178.3 392.9,1189.2 379.7,1189.2" fill="#ee00ee"/>
<polygon points="409.7,1171.0 416.3,1181.9 403.1,1181.9" fill="#ee00ee"/>
<polygon points="433.1,1161.6 439.7,1172.5 426.5,1172.5" fill="#ee00ee"/>
<polygon points="456.5,1142.2 463.1,1153.1 449.9,1153.1" fill="#ee00ee"/>
<polygon points="479.9,1096.7 486.5,1107.6 473.3,1107.6" fill="#ee00ee"/>
<polygon points="503.3,1019.8 509.9,1030.7 496.7,1030.7" fill="#ee00ee"/>
<polygon points="526.7,753.5 533.3,764.4 520.1,764.4" fill="#ee00ee"/>
<polygon points="550.1,732.0 556.7,742.9 543.5,742.9" fill="#ee00ee"/>
<polygon points="573.5,731.5 580.1,742.4 566.9,742.4" fill="#ee00ee"/>
<polygon points="596.9,739.3 603.5,750.2 590.3,750.2" fill="#ee00ee"/>
<polygon points="620.3,731.5 626.9,742.4 613.7,742.4" fill="#ee00ee"/>
<polygon points="643.7,724.2 650.3,735.1 637.1,735.1" fill="#ee00ee"/>
<polygon points="667.1,736.2 673.7,747.1 660.5,747.1" fill="#ee00ee"/>
<polygon points="690.5,742.0 697.1,752.9 683.9,752.9" fill="#ee00ee"/>
<polygon points="714.0,737.8 720.6,748.7 707.4,748.7" fill="#ee00ee"/>
<polygon points="737.4,743.7 744.0,754.6 730.8,754.6" fill="#ee00ee"/>
<polygon points="760.8,764.5 767.4,775.4 754.2,775.4" fill="#ee00ee"/>
<polygon points="784.2,812.9 790.8,823.8 777.6,823.8" fill="#ee00ee"/>
<polygon points="807.6,1146.4 814.2,1157.3 801.0,1157.3" fill="#ee00ee"/>
<polygon points="831.0,1183.0 837.6,1193.9 824.4,1193.9" fill="#ee00ee"/>
<polyline points="339.5,1190.8 362.9,1188.7 386.3,1183.5 409.7,1177.2 433.1,1167.8 456.5,1150.0 479.9,1105.6 503.3,1037.0 526.7,774.1 550.1,762.6 573.5,761.8 596.9,778.0 620.3,780.1 643.7,779.8 667.1,792.4 690.5,806.3 714.0,813.1 737.4,823.2 760.8,853.2 784.2,916.2 807.6,1163.1 831.0,1186.7" fill="none" stroke="#2a2aa8" stroke-width="2.10" stroke-linejoin="round"/>
<polygon points="339.5,1198.1 346.1,1187.2 332.9,1187.2" fill="#0000ee"/>
<polygon points="362.9,1196.0 369.5,1185.1 356.3,1185.1" fill="#0000ee"/>
<polygon points="386.3,1190.8 392.9,1179.9 379.7,1179.9" fill="#0000ee"/>
<polygon points="409.7,1184.5 416.3,1173.6 403.1,1173.6" fill="#0000ee"/>
<polygon points="433.1,1175.1 439.7,1164.2 426.5,1164.2" fill="#0000ee"/>
<polygon points="456.5,1157.3 463.1,1146.4 449.9,1146.4" fill="#0000ee"/>
<polygon points="479.9,1112.8 486.5,1101.9 473.3,1101.9" fill="#0000ee"/>
<polygon points="503.3,1044.3 509.9,1033.4 496.7,1033.4" fill="#0000ee"/>
<polygon points="526.7,781.4 533.3,770.5 520.1,770.5" fill="#0000ee"/>
<polygon points="550.1,769.9 556.7,759.0 543.5,759.0" fill="#0000ee"/>
<polygon points="573.5,769.1 580.1,758.2 566.9,758.2" fill="#0000ee"/>
<polygon points="596.9,785.3 603.5,774.4 590.3,774.4" fill="#0000ee"/>
<polygon points="620.3,787.4 626.9,776.5 613.7,776.5" fill="#0000ee"/>
<polygon points="643.7,787.0 650.3,776.1 637.1,776.1" fill="#0000ee"/>
<polygon points="667.1,799.6 673.7,788.7 660.5,788.7" fill="#0000ee"/>
<polygon points="690.5,813.6 697.1,802.7 683.9,802.7" fill="#0000ee"/>
<polygon points="714.0,820.4 720.6,809.5 707.4,809.5" fill="#0000ee"/>
<polygon points="737.4,830.5 744.0,819.6 730.8,819.6" fill="#0000ee"/>
<polygon points="760.8,860.4 767.4,849.5 754.2,849.5" fill="#0000ee"/>
<polygon points="784.2,923.4 790.8,912.5 777.6,912.5" fill="#0000ee"/>
<polygon points="807.6,1170.4 814.2,1159.5 801.0,1159.5" fill="#0000ee"/>
<polygon points="831.0,1193.9 837.6,1183.0 824.4,1183.0" fill="#0000ee"/>
<polyline points="339.5,1192.7 362.9,1191.1 386.3,1186.4 409.7,1180.6 433.1,1171.2 456.5,1154.5 479.9,1111.6 503.3,1042.0 526.7,783.8 550.1,767.8 573.5,768.9 596.9,789.8 620.3,790.8 643.7,794.2 667.1,808.1 690.5,823.8 714.0,834.3 737.4,847.5 760.8,880.0 784.2,935.7 807.6,1155.0 831.0,1188.5" fill="none" stroke="#8c8c50" stroke-width="2.10" stroke-linejoin="round"/>
<polygon points="339.5,1186.4 344.6,1192.7 339.5,1199.0 334.4,1192.7" fill="#fffff0" stroke="#9a9458" stroke-width="1.0"/>
<polygon points="362.9,1184.8 368.0,1191.1 362.9,1197.4 357.8,1191.1" fill="#fffff0" stroke="#9a9458" stroke-width="1.0"/>
<polygon points="386.3,1180.1 391.4,1186.4 386.3,1192.7 381.2,1186.4" fill="#fffff0" stroke="#9a9458" stroke-width="1.0"/>
<polygon points="409.7,1174.3 414.8,1180.6 409.7,1186.9 404.6,1180.6" fill="#fffff0" stroke="#9a9458" stroke-width="1.0"/>
<polygon points="433.1,1164.9 438.2,1171.2 433.1,1177.5 428.0,1171.2" fill="#fffff0" stroke="#9a9458" stroke-width="1.0"/>
<polygon points="456.5,1148.2 461.6,1154.5 456.5,1160.8 451.4,1154.5" fill="#fffff0" stroke="#9a9458" stroke-width="1.0"/>
<polygon points="479.9,1105.3 485.0,1111.6 479.9,1117.9 474.8,1111.6" fill="#fffff0" stroke="#9a9458" stroke-width="1.0"/>
<polygon points="503.3,1035.7 508.4,1042.0 503.3,1048.3 498.2,1042.0" fill="#fffff0" stroke="#9a9458" stroke-width="1.0"/>
<polygon points="526.7,777.5 531.8,783.8 526.7,790.1 521.6,783.8" fill="#fffff0" stroke="#9a9458" stroke-width="1.0"/>
<polygon points="550.1,761.5 555.2,767.8 550.1,774.1 545.0,767.8" fill="#fffff0" stroke="#9a9458" stroke-width="1.0"/>
<polygon points="573.5,762.6 578.6,768.9 573.5,775.2 568.4,768.9" fill="#fffff0" stroke="#9a9458" stroke-width="1.0"/>
<polygon points="596.9,783.5 602.0,789.8 596.9,796.1 591.8,789.8" fill="#fffff0" stroke="#9a9458" stroke-width="1.0"/>
<polygon points="620.3,784.5 625.4,790.8 620.3,797.1 615.2,790.8" fill="#fffff0" stroke="#9a9458" stroke-width="1.0"/>
<polygon points="643.7,787.9 648.8,794.2 643.7,800.5 638.6,794.2" fill="#fffff0" stroke="#9a9458" stroke-width="1.0"/>
<polygon points="667.1,801.8 672.2,808.1 667.1,814.4 662.0,808.1" fill="#fffff0" stroke="#9a9458" stroke-width="1.0"/>
<polygon points="690.5,817.5 695.6,823.8 690.5,830.1 685.4,823.8" fill="#fffff0" stroke="#9a9458" stroke-width="1.0"/>
<polygon points="714.0,828.0 719.1,834.3 714.0,840.6 708.9,834.3" fill="#fffff0" stroke="#9a9458" stroke-width="1.0"/>
<polygon points="737.4,841.2 742.5,847.5 737.4,853.8 732.3,847.5" fill="#fffff0" stroke="#9a9458" stroke-width="1.0"/>
<polygon points="760.8,873.7 765.9,880.0 760.8,886.3 755.7,880.0" fill="#fffff0" stroke="#9a9458" stroke-width="1.0"/>
<polygon points="784.2,929.4 789.3,935.7 784.2,942.0 779.1,935.7" fill="#fffff0" stroke="#9a9458" stroke-width="1.0"/>
<polygon points="807.6,1148.7 812.7,1155.0 807.6,1161.3 802.5,1155.0" fill="#fffff0" stroke="#9a9458" stroke-width="1.0"/>
<polygon points="831.0,1182.2 836.1,1188.5 831.0,1194.8 825.9,1188.5" fill="#fffff0" stroke="#9a9458" stroke-width="1.0"/>
<polyline points="339.5,1192.7 362.9,1192.1 386.3,1187.4 409.7,1182.7 433.1,1172.5 456.5,1157.1 479.9,1116.3 503.3,1054.5 526.7,809.1 550.1,797.1 573.5,800.3 596.9,822.8 620.3,828.5 643.7,831.6 667.1,851.5 690.5,870.9 714.0,884.0 737.4,898.3 760.8,933.7 784.2,1001.5 807.6,1173.1 831.0,1188.7" fill="none" stroke="#358585" stroke-width="2.10" stroke-linejoin="round"/>
<polygon points="339.5,1187.0 344.5,1189.8 344.5,1195.5 339.5,1198.4 334.6,1195.5 334.6,1189.8" fill="#008080"/>
<polygon points="362.9,1186.4 367.9,1189.3 367.9,1195.0 362.9,1197.8 358.0,1195.0 358.0,1189.3" fill="#008080"/>
<polygon points="386.3,1181.7 391.3,1184.6 391.3,1190.3 386.3,1193.1 381.4,1190.3 381.4,1184.6" fill="#008080"/>
<polygon points="409.7,1177.0 414.7,1179.9 414.7,1185.6 409.7,1188.4 404.8,1185.6 404.8,1179.9" fill="#008080"/>
<polygon points="433.1,1166.8 438.1,1169.7 438.1,1175.4 433.1,1178.2 428.2,1175.4 428.2,1169.7" fill="#008080"/>
<polygon points="456.5,1151.4 461.5,1154.2 461.5,1159.9 456.5,1162.8 451.6,1159.9 451.6,1154.2" fill="#008080"/>
<polygon points="479.9,1110.6 484.9,1113.4 484.9,1119.1 479.9,1122.0 475.0,1119.1 475.0,1113.4" fill="#008080"/>
<polygon points="503.3,1048.8 508.3,1051.7 508.3,1057.4 503.3,1060.2 498.4,1057.4 498.4,1051.7" fill="#008080"/>
<polygon points="526.7,803.4 531.7,806.3 531.7,812.0 526.7,814.8 521.8,812.0 521.8,806.3" fill="#008080"/>
<polygon points="550.1,791.4 555.1,794.3 555.1,800.0 550.1,802.8 545.2,800.0 545.2,794.3" fill="#008080"/>
<polygon points="573.5,794.6 578.5,797.4 578.5,803.1 573.5,806.0 568.6,803.1 568.6,797.4" fill="#008080"/>
<polygon points="596.9,817.1 601.9,819.9 601.9,825.6 596.9,828.5 592.0,825.6 592.0,819.9" fill="#008080"/>
<polygon points="620.3,822.8 625.3,825.7 625.3,831.4 620.3,834.2 615.4,831.4 615.4,825.7" fill="#008080"/>
<polygon points="643.7,825.9 648.7,828.8 648.7,834.5 643.7,837.3 638.8,834.5 638.8,828.8" fill="#008080"/>
<polygon points="667.1,845.8 672.1,848.7 672.1,854.4 667.1,857.2 662.2,854.4 662.2,848.7" fill="#008080"/>
<polygon points="690.5,865.2 695.5,868.0 695.5,873.7 690.5,876.6 685.6,873.7 685.6,868.0" fill="#008080"/>
<polygon points="714.0,878.3 718.9,881.1 718.9,886.8 714.0,889.7 709.0,886.8 709.0,881.1" fill="#008080"/>
<polygon points="737.4,892.6 742.3,895.5 742.3,901.2 737.4,904.0 732.4,901.2 732.4,895.5" fill="#008080"/>
<polygon points="760.8,928.0 765.7,930.8 765.7,936.5 760.8,939.4 755.8,936.5 755.8,930.8" fill="#008080"/>
<polygon points="784.2,995.8 789.1,998.6 789.1,1004.3 784.2,1007.2 779.2,1004.3 779.2,998.6" fill="#008080"/>
<polygon points="807.6,1167.4 812.5,1170.2 812.5,1175.9 807.6,1178.8 802.6,1175.9 802.6,1170.2" fill="#008080"/>
<polygon points="831.0,1183.0 835.9,1185.8 835.9,1191.5 831.0,1194.4 826.0,1191.5 826.0,1185.8" fill="#008080"/>
</g>
<text x="219.33" y="906.69" font-family='"Liberation Serif", serif' font-size="28.86" textLength="43.70" lengthAdjust="spacingAndGlyphs" fill="#000">1.8</text>
<text x="275.62" y="906.34" font-family='"Liberation Serif", serif' font-size="30.18" textLength="70.17" lengthAdjust="spacingAndGlyphs" fill="#000">MeV</text>
<text x="355.96" y="906.34" font-family='"Liberation Serif", serif' font-size="30.18" textLength="118.80" lengthAdjust="spacingAndGlyphs" fill="#000">electron</text>
<line x1="216.00" y1="934.80" x2="270.50" y2="934.80" stroke="#000" stroke-width="2.10"/>
<rect x="238.2" y="930.2" width="9.2" height="9.2" fill="#000"/>
<text x="281.94" y="941.36" font-family='"Liberation Serif", serif' font-size="25.01" textLength="169.03" lengthAdjust="spacingAndGlyphs" fill="#000">Unirradiation</text>
<line x1="216.00" y1="968.70" x2="270.50" y2="968.70" stroke="#dda060" stroke-width="2.10"/>
<circle cx="242.8" cy="968.7" r="4.465" fill="#fffaea" stroke="#d4a870" stroke-width="1.2"/>
<text x="279.54" y="975.15" font-family='"Liberation Serif", serif' font-size="25.73" textLength="14.27" lengthAdjust="spacingAndGlyphs" fill="#000">5</text>
<text x="297.94" y="978.13" font-family='"Liberation Serif", serif' font-size="30.45" textLength="19.00" lengthAdjust="spacingAndGlyphs" fill="#000">×</text>
<text x="320.32" y="975.15" font-family='"Liberation Serif", serif' font-size="25.34" textLength="28.26" lengthAdjust="spacingAndGlyphs" fill="#000">10</text>
<text x="349.30" y="963.45" font-family='"Liberation Serif", serif' font-size="15.78" textLength="19.36" lengthAdjust="spacingAndGlyphs" fill="#000">13</text>
<text x="374.68" y="975.16" font-family='"Liberation Serif", serif' font-size="24.53" textLength="36.09" lengthAdjust="spacingAndGlyphs" fill="#000">cm</text>
<text x="413.55" y="969.33" font-family='"Liberation Serif", serif' font-size="28.11" textLength="12.97" lengthAdjust="spacingAndGlyphs" fill="#000">−</text>
<text x="425.94" y="963.60" font-family='"Liberation Serif", serif' font-size="16.01" textLength="13.22" lengthAdjust="spacingAndGlyphs" fill="#000">2</text>
<line x1="216.00" y1="1002.33" x2="270.50" y2="1002.33" stroke="#c050c8" stroke-width="2.10"/>
<polygon points="242.8,995.4 249.1,1005.8 236.5,1005.8" fill="#ee00ee"/>
<text x="279.83" y="1009.03" font-family='"Liberation Serif", serif' font-size="25.90" textLength="14.63" lengthAdjust="spacingAndGlyphs" fill="#000">1</text>
<text x="297.94" y="1011.76" font-family='"Liberation Serif", serif' font-size="30.45" textLength="19.00" lengthAdjust="spacingAndGlyphs" fill="#000">×</text>
<text x="320.32" y="1008.78" font-family='"Liberation Serif", serif' font-size="25.34" textLength="28.26" lengthAdjust="spacingAndGlyphs" fill="#000">10</text>
<text x="349.34" y="997.23" font-family='"Liberation Serif", serif' font-size="16.06" textLength="18.85" lengthAdjust="spacingAndGlyphs" fill="#000">14</text>
<text x="374.68" y="1008.79" font-family='"Liberation Serif", serif' font-size="24.53" textLength="36.09" lengthAdjust="spacingAndGlyphs" fill="#000">cm</text>
<text x="413.55" y="1002.96" font-family='"Liberation Serif", serif' font-size="28.11" textLength="12.97" lengthAdjust="spacingAndGlyphs" fill="#000">−</text>
<text x="425.94" y="997.23" font-family='"Liberation Serif", serif' font-size="16.01" textLength="13.22" lengthAdjust="spacingAndGlyphs" fill="#000">2</text>
<line x1="216.00" y1="1035.96" x2="270.50" y2="1035.96" stroke="#2a2aa8" stroke-width="2.10"/>
<polygon points="242.8,1042.9 249.1,1032.5 236.5,1032.5" fill="#0000ee"/>
<text x="279.54" y="1042.41" font-family='"Liberation Serif", serif' font-size="25.73" textLength="14.27" lengthAdjust="spacingAndGlyphs" fill="#000">5</text>
<text x="297.94" y="1045.39" font-family='"Liberation Serif", serif' font-size="30.45" textLength="19.00" lengthAdjust="spacingAndGlyphs" fill="#000">×</text>
<text x="320.32" y="1042.41" font-family='"Liberation Serif", serif' font-size="25.34" textLength="28.26" lengthAdjust="spacingAndGlyphs" fill="#000">10</text>
<text x="349.34" y="1030.86" font-family='"Liberation Serif", serif' font-size="16.06" textLength="18.85" lengthAdjust="spacingAndGlyphs" fill="#000">14</text>
<text x="374.68" y="1042.42" font-family='"Liberation Serif", serif' font-size="24.53" textLength="36.09" lengthAdjust="spacingAndGlyphs" fill="#000">cm</text>
<text x="413.55" y="1036.59" font-family='"Liberation Serif", serif' font-size="28.11" textLength="12.97" lengthAdjust="spacingAndGlyphs" fill="#000">−</text>
<text x="425.94" y="1030.86" font-family='"Liberation Serif", serif' font-size="16.01" textLength="13.22" lengthAdjust="spacingAndGlyphs" fill="#000">2</text>
<line x1="216.00" y1="1069.59" x2="270.50" y2="1069.59" stroke="#8c8c50" stroke-width="2.10"/>
<polygon points="242.8,1063.6 247.6,1069.6 242.8,1075.6 238.0,1069.6" fill="#fffff0" stroke="#9a9458" stroke-width="1.0"/>
<text x="279.83" y="1076.29" font-family='"Liberation Serif", serif' font-size="25.90" textLength="14.63" lengthAdjust="spacingAndGlyphs" fill="#000">1</text>
<text x="297.94" y="1079.02" font-family='"Liberation Serif", serif' font-size="30.45" textLength="19.00" lengthAdjust="spacingAndGlyphs" fill="#000">×</text>
<text x="320.32" y="1076.04" font-family='"Liberation Serif", serif' font-size="25.34" textLength="28.26" lengthAdjust="spacingAndGlyphs" fill="#000">10</text>
<text x="349.30" y="1064.34" font-family='"Liberation Serif", serif' font-size="15.82" textLength="19.36" lengthAdjust="spacingAndGlyphs" fill="#000">15</text>
<text x="374.68" y="1076.05" font-family='"Liberation Serif", serif' font-size="24.53" textLength="36.09" lengthAdjust="spacingAndGlyphs" fill="#000">cm</text>
<text x="413.55" y="1070.22" font-family='"Liberation Serif", serif' font-size="28.11" textLength="12.97" lengthAdjust="spacingAndGlyphs" fill="#000">−</text>
<text x="425.94" y="1064.49" font-family='"Liberation Serif", serif' font-size="16.01" textLength="13.22" lengthAdjust="spacingAndGlyphs" fill="#000">2</text>
<line x1="216.00" y1="1103.22" x2="270.50" y2="1103.22" stroke="#358585" stroke-width="2.10"/>
<polygon points="242.8,1097.8 247.5,1100.5 247.5,1105.9 242.8,1108.6 238.1,1105.9 238.1,1100.5" fill="#008080"/>
<text x="279.87" y="1109.67" font-family='"Liberation Serif", serif' font-size="25.45" textLength="13.92" lengthAdjust="spacingAndGlyphs" fill="#000">3</text>
<text x="297.94" y="1112.65" font-family='"Liberation Serif", serif' font-size="30.45" textLength="19.00" lengthAdjust="spacingAndGlyphs" fill="#000">×</text>
<text x="320.32" y="1109.67" font-family='"Liberation Serif", serif' font-size="25.34" textLength="28.26" lengthAdjust="spacingAndGlyphs" fill="#000">10</text>
<text x="349.30" y="1097.97" font-family='"Liberation Serif", serif' font-size="15.82" textLength="19.36" lengthAdjust="spacingAndGlyphs" fill="#000">15</text>
<text x="374.68" y="1109.68" font-family='"Liberation Serif", serif' font-size="24.53" textLength="36.09" lengthAdjust="spacingAndGlyphs" fill="#000">cm</text>
<text x="413.55" y="1103.85" font-family='"Liberation Serif", serif' font-size="28.11" textLength="12.97" lengthAdjust="spacingAndGlyphs" fill="#000">−</text>
<text x="425.94" y="1098.12" font-family='"Liberation Serif", serif' font-size="16.01" textLength="13.22" lengthAdjust="spacingAndGlyphs" fill="#000">2</text>
<rect x="105.6" y="670.5" width="819.2" height="523.2" fill="none" stroke="#000" stroke-width="2.5"/>
<text x="2.58" y="1336.38" font-family='"Liberation Sans", sans-serif' font-weight="bold" font-size="42.65" textLength="28.61" lengthAdjust="spacingAndGlyphs" fill="#000">C</text>
<line x1="111.80" y1="1834.38" x2="119.30" y2="1834.38" stroke="#000" stroke-width="2.10"/>
<line x1="111.80" y1="1808.36" x2="119.30" y2="1808.36" stroke="#000" stroke-width="2.10"/>
<line x1="111.80" y1="1782.34" x2="119.30" y2="1782.34" stroke="#000" stroke-width="2.10"/>
<line x1="111.80" y1="1756.32" x2="125.80" y2="1756.32" stroke="#000" stroke-width="2.10"/>
<line x1="111.80" y1="1730.30" x2="119.30" y2="1730.30" stroke="#000" stroke-width="2.10"/>
<line x1="111.80" y1="1704.28" x2="119.30" y2="1704.28" stroke="#000" stroke-width="2.10"/>
<line x1="111.80" y1="1678.26" x2="119.30" y2="1678.26" stroke="#000" stroke-width="2.10"/>
<line x1="111.80" y1="1652.24" x2="125.80" y2="1652.24" stroke="#000" stroke-width="2.10"/>
<line x1="111.80" y1="1626.22" x2="119.30" y2="1626.22" stroke="#000" stroke-width="2.10"/>
<line x1="111.80" y1="1600.20" x2="119.30" y2="1600.20" stroke="#000" stroke-width="2.10"/>
<line x1="111.80" y1="1574.18" x2="119.30" y2="1574.18" stroke="#000" stroke-width="2.10"/>
<line x1="111.80" y1="1548.16" x2="125.80" y2="1548.16" stroke="#000" stroke-width="2.10"/>
<line x1="111.80" y1="1522.14" x2="119.30" y2="1522.14" stroke="#000" stroke-width="2.10"/>
<line x1="111.80" y1="1496.12" x2="119.30" y2="1496.12" stroke="#000" stroke-width="2.10"/>
<line x1="111.80" y1="1470.10" x2="119.30" y2="1470.10" stroke="#000" stroke-width="2.10"/>
<line x1="111.80" y1="1444.08" x2="125.80" y2="1444.08" stroke="#000" stroke-width="2.10"/>
<line x1="111.80" y1="1418.06" x2="119.30" y2="1418.06" stroke="#000" stroke-width="2.10"/>
<line x1="111.80" y1="1392.04" x2="119.30" y2="1392.04" stroke="#000" stroke-width="2.10"/>
<line x1="111.80" y1="1366.02" x2="119.30" y2="1366.02" stroke="#000" stroke-width="2.10"/>
<text x="60.67" y="1871.27" font-family='"Liberation Serif", serif' font-size="30.48" textLength="43.55" lengthAdjust="spacingAndGlyphs" fill="#000">0.0</text>
<text x="60.65" y="1767.19" font-family='"Liberation Serif", serif' font-size="30.48" textLength="44.20" lengthAdjust="spacingAndGlyphs" fill="#000">0.2</text>
<text x="60.70" y="1663.11" font-family='"Liberation Serif", serif' font-size="30.48" textLength="42.74" lengthAdjust="spacingAndGlyphs" fill="#000">0.4</text>
<text x="60.68" y="1559.03" font-family='"Liberation Serif", serif' font-size="30.48" textLength="43.25" lengthAdjust="spacingAndGlyphs" fill="#000">0.6</text>
<text x="60.67" y="1454.95" font-family='"Liberation Serif", serif' font-size="30.48" textLength="43.55" lengthAdjust="spacingAndGlyphs" fill="#000">0.8</text>
<text x="60.63" y="1350.87" font-family='"Liberation Serif", serif' font-size="30.48" textLength="43.59" lengthAdjust="spacingAndGlyphs" fill="#000">1.0</text>
<line x1="111.75" y1="1860.40" x2="111.75" y2="1874.40" stroke="#000" stroke-width="2.10"/>
<line x1="135.21" y1="1860.40" x2="135.21" y2="1867.90" stroke="#000" stroke-width="2.10"/>
<line x1="158.67" y1="1860.40" x2="158.67" y2="1867.90" stroke="#000" stroke-width="2.10"/>
<line x1="182.14" y1="1860.40" x2="182.14" y2="1867.90" stroke="#000" stroke-width="2.10"/>
<line x1="205.60" y1="1860.40" x2="205.60" y2="1867.90" stroke="#000" stroke-width="2.10"/>
<line x1="229.06" y1="1860.40" x2="229.06" y2="1874.40" stroke="#000" stroke-width="2.10"/>
<line x1="252.52" y1="1860.40" x2="252.52" y2="1867.90" stroke="#000" stroke-width="2.10"/>
<line x1="275.98" y1="1860.40" x2="275.98" y2="1867.90" stroke="#000" stroke-width="2.10"/>
<line x1="299.45" y1="1860.40" x2="299.45" y2="1867.90" stroke="#000" stroke-width="2.10"/>
<line x1="322.91" y1="1860.40" x2="322.91" y2="1867.90" stroke="#000" stroke-width="2.10"/>
<line x1="346.37" y1="1860.40" x2="346.37" y2="1874.40" stroke="#000" stroke-width="2.10"/>
<line x1="369.83" y1="1860.40" x2="369.83" y2="1867.90" stroke="#000" stroke-width="2.10"/>
<line x1="393.29" y1="1860.40" x2="393.29" y2="1867.90" stroke="#000" stroke-width="2.10"/>
<line x1="416.76" y1="1860.40" x2="416.76" y2="1867.90" stroke="#000" stroke-width="2.10"/>
<line x1="440.22" y1="1860.40" x2="440.22" y2="1867.90" stroke="#000" stroke-width="2.10"/>
<line x1="463.68" y1="1860.40" x2="463.68" y2="1874.40" stroke="#000" stroke-width="2.10"/>
<line x1="487.14" y1="1860.40" x2="487.14" y2="1867.90" stroke="#000" stroke-width="2.10"/>
<line x1="510.60" y1="1860.40" x2="510.60" y2="1867.90" stroke="#000" stroke-width="2.10"/>
<line x1="534.07" y1="1860.40" x2="534.07" y2="1867.90" stroke="#000" stroke-width="2.10"/>
<line x1="557.53" y1="1860.40" x2="557.53" y2="1867.90" stroke="#000" stroke-width="2.10"/>
<line x1="580.99" y1="1860.40" x2="580.99" y2="1874.40" stroke="#000" stroke-width="2.10"/>
<line x1="604.45" y1="1860.40" x2="604.45" y2="1867.90" stroke="#000" stroke-width="2.10"/>
<line x1="627.91" y1="1860.40" x2="627.91" y2="1867.90" stroke="#000" stroke-width="2.10"/>
<line x1="651.38" y1="1860.40" x2="651.38" y2="1867.90" stroke="#000" stroke-width="2.10"/>
<line x1="674.84" y1="1860.40" x2="674.84" y2="1867.90" stroke="#000" stroke-width="2.10"/>
<line x1="698.30" y1="1860.40" x2="698.30" y2="1874.40" stroke="#000" stroke-width="2.10"/>
<line x1="721.76" y1="1860.40" x2="721.76" y2="1867.90" stroke="#000" stroke-width="2.10"/>
<line x1="745.22" y1="1860.40" x2="745.22" y2="1867.90" stroke="#000" stroke-width="2.10"/>
<line x1="768.69" y1="1860.40" x2="768.69" y2="1867.90" stroke="#000" stroke-width="2.10"/>
<line x1="792.15" y1="1860.40" x2="792.15" y2="1867.90" stroke="#000" stroke-width="2.10"/>
<line x1="815.61" y1="1860.40" x2="815.61" y2="1874.40" stroke="#000" stroke-width="2.10"/>
<line x1="839.07" y1="1860.40" x2="839.07" y2="1867.90" stroke="#000" stroke-width="2.10"/>
<line x1="862.53" y1="1860.40" x2="862.53" y2="1867.90" stroke="#000" stroke-width="2.10"/>
<line x1="886.00" y1="1860.40" x2="886.00" y2="1867.90" stroke="#000" stroke-width="2.10"/>
<line x1="909.46" y1="1860.40" x2="909.46" y2="1867.90" stroke="#000" stroke-width="2.10"/>
<text x="84.52" y="1902.12" font-family='"Liberation Serif", serif' font-size="29.05" textLength="52.51" lengthAdjust="spacingAndGlyphs" fill="#000">300</text>
<text x="202.84" y="1902.12" font-family='"Liberation Serif", serif' font-size="29.05" textLength="51.48" lengthAdjust="spacingAndGlyphs" fill="#000">400</text>
<text x="318.77" y="1902.12" font-family='"Liberation Serif", serif' font-size="29.05" textLength="52.89" lengthAdjust="spacingAndGlyphs" fill="#000">500</text>
<text x="436.63" y="1902.12" font-family='"Liberation Serif", serif' font-size="29.05" textLength="52.33" lengthAdjust="spacingAndGlyphs" fill="#000">600</text>
<text x="553.10" y="1902.12" font-family='"Liberation Serif", serif' font-size="29.05" textLength="53.19" lengthAdjust="spacingAndGlyphs" fill="#000">700</text>
<text x="671.43" y="1902.12" font-family='"Liberation Serif", serif' font-size="29.05" textLength="52.15" lengthAdjust="spacingAndGlyphs" fill="#000">800</text>
<text x="788.94" y="1902.12" font-family='"Liberation Serif", serif' font-size="29.05" textLength="51.93" lengthAdjust="spacingAndGlyphs" fill="#000">900</text>
<text transform="translate(29.39,1784.97) rotate(-90)" x="0" y="0" font-family='"Liberation Serif", serif' font-size="34.35" textLength="160.95" lengthAdjust="spacingAndGlyphs" fill="#000">Quantum</text>
<text transform="translate(29.39,1609.34) rotate(-90)" x="0" y="0" font-family='"Liberation Serif", serif' font-size="34.35" textLength="157.29" lengthAdjust="spacingAndGlyphs" fill="#000">efficiency</text>
<text x="361.96" y="1941.10" font-family='"Liberation Serif", serif' font-size="31.99" textLength="198.88" lengthAdjust="spacingAndGlyphs" fill="#000">Wavelength</text>
<text x="577.94" y="1942.48" font-family='"Liberation Serif", serif' font-size="36.73" textLength="13.35" lengthAdjust="spacingAndGlyphs" fill="#000">(</text>
<text x="592.37" y="1942.48" font-family='"Liberation Serif", serif' font-size="36.73" textLength="51.56" lengthAdjust="spacingAndGlyphs" fill="#000">nm</text>
<text x="646.25" y="1942.48" font-family='"Liberation Serif", serif' font-size="36.73" textLength="12.97" lengthAdjust="spacingAndGlyphs" fill="#000">)</text>
<text x="246.55" y="1384.81" font-family='"Liberation Serif", serif' font-size="30.00" textLength="96.77" lengthAdjust="spacingAndGlyphs" fill="#000">GaInP</text>
<text x="355.73" y="1384.81" font-family='"Liberation Serif", serif' font-size="30.00" textLength="47.93" lengthAdjust="spacingAndGlyphs" fill="#000">top</text>
<text x="414.62" y="1384.81" font-family='"Liberation Serif", serif' font-size="30.00" textLength="48.55" lengthAdjust="spacingAndGlyphs" fill="#000">cell</text>
<text x="525.42" y="1367.70" font-family='"Liberation Serif", serif' font-size="30.56" textLength="82.18" lengthAdjust="spacingAndGlyphs" fill="#000">GaAs</text>
<text x="618.66" y="1367.70" font-family='"Liberation Serif", serif' font-size="30.56" textLength="97.45" lengthAdjust="spacingAndGlyphs" fill="#000">middle</text>
<text x="726.72" y="1367.70" font-family='"Liberation Serif", serif' font-size="30.56" textLength="48.55" lengthAdjust="spacingAndGlyphs" fill="#000">cell</text>
<clipPath id="clipC"><rect x="111.8" y="1340" width="798.0" height="520.4"/></clipPath><g clip-path="url(#clipC)">
<polyline points="158.7,1860.4 182.1,1738.6 205.6,1615.8 229.1,1522.1 252.5,1477.9 276.0,1459.7 299.4,1449.3 322.9,1437.8 346.4,1413.9 369.8,1404.0 393.3,1401.4 416.8,1409.2 440.2,1419.1 463.7,1433.7 487.1,1483.6 510.6,1552.3 534.1,1850.0 557.5,1860.4 581.0,1860.4 604.5,1860.4 627.9,1860.4" fill="none" stroke="#d02828" stroke-width="2.10" stroke-linejoin="round"/>
<circle cx="158.7" cy="1860.4" r="4.7" fill="#fff8f8" stroke="#a83030" stroke-width="1.2"/>
<circle cx="182.1" cy="1738.6" r="4.7" fill="#fff8f8" stroke="#a83030" stroke-width="1.2"/>
<polyline points="158.7,1839.6 182.1,1741.8 205.6,1614.0 229.1,1520.3 252.5,1476.1 276.0,1464.6 299.4,1458.9 322.9,1446.4 346.4,1422.7 369.8,1414.7 393.3,1411.7 416.8,1419.4 440.2,1427.7 463.7,1443.8 487.1,1494.8 510.6,1571.3 534.1,1848.2 557.5,1858.6 581.0,1858.6 604.5,1858.6 627.9,1858.6" fill="none" stroke="#2a22a8" stroke-width="2.10" stroke-linejoin="round"/>
<polygon points="158.7,1846.9 165.3,1836.0 152.1,1836.0" fill="#0000ee"/>
<polygon points="182.1,1749.1 188.7,1738.2 175.5,1738.2" fill="#0000ee"/>
<polygon points="205.6,1621.3 212.2,1610.4 199.0,1610.4" fill="#0000ee"/>
<polygon points="229.1,1527.6 235.7,1516.7 222.5,1516.7" fill="#0000ee"/>
<polygon points="252.5,1483.4 259.1,1472.5 245.9,1472.5" fill="#0000ee"/>
<polygon points="276.0,1471.9 282.6,1461.0 269.4,1461.0" fill="#0000ee"/>
<polygon points="299.4,1466.2 306.0,1455.3 292.8,1455.3" fill="#0000ee"/>
<polygon points="322.9,1453.7 329.5,1442.8 316.3,1442.8" fill="#0000ee"/>
<polygon points="346.4,1430.0 353.0,1419.1 339.8,1419.1" fill="#0000ee"/>
<polygon points="369.8,1421.9 376.4,1411.0 363.2,1411.0" fill="#0000ee"/>
<polygon points="393.3,1418.9 399.9,1408.0 386.7,1408.0" fill="#0000ee"/>
<polygon points="416.8,1426.6 423.4,1415.7 410.2,1415.7" fill="#0000ee"/>
<polygon points="440.2,1435.0 446.8,1424.1 433.6,1424.1" fill="#0000ee"/>
<polygon points="463.7,1451.1 470.3,1440.2 457.1,1440.2" fill="#0000ee"/>
<polygon points="487.1,1502.1 493.7,1491.2 480.5,1491.2" fill="#0000ee"/>
<polygon points="510.6,1578.6 517.2,1567.7 504.0,1567.7" fill="#0000ee"/>
<polygon points="534.1,1855.4 540.7,1844.5 527.5,1844.5" fill="#0000ee"/>
<polygon points="557.5,1865.9 564.1,1855.0 550.9,1855.0" fill="#0000ee"/>
<polygon points="581.0,1865.9 587.6,1855.0 574.4,1855.0" fill="#0000ee"/>
<polygon points="604.5,1865.9 611.1,1855.0 597.9,1855.0" fill="#0000ee"/>
<polygon points="627.9,1865.9 634.5,1855.0 621.3,1855.0" fill="#0000ee"/>
<polyline points="158.7,1846.3 182.1,1748.6 205.6,1618.9 229.1,1527.0 252.5,1482.6 276.0,1462.8 299.4,1454.5 322.9,1443.0 346.4,1418.1 369.8,1409.7 393.3,1404.8 416.8,1414.6 440.2,1423.3 463.7,1437.6 487.1,1487.3 510.6,1556.7 534.1,1850.0 557.5,1860.4 581.0,1860.4 604.5,1860.4 627.9,1860.4" fill="none" stroke="#b03030" stroke-width="2.10" stroke-linejoin="round"/>
<circle cx="158.7" cy="1846.3" r="4.7" fill="#fff8f8" stroke="#a83030" stroke-width="1.2"/>
<circle cx="182.1" cy="1748.6" r="4.7" fill="#fff8f8" stroke="#a83030" stroke-width="1.2"/>
<circle cx="205.6" cy="1618.9" r="4.7" fill="#fff8f8" stroke="#a83030" stroke-width="1.2"/>
<circle cx="229.1" cy="1527.0" r="4.7" fill="#fff8f8" stroke="#a83030" stroke-width="1.2"/>
<circle cx="252.5" cy="1482.6" r="4.7" fill="#fff8f8" stroke="#a83030" stroke-width="1.2"/>
<circle cx="276.0" cy="1462.8" r="4.7" fill="#fff8f8" stroke="#a83030" stroke-width="1.2"/>
<circle cx="299.4" cy="1454.5" r="4.7" fill="#fff8f8" stroke="#a83030" stroke-width="1.2"/>
<circle cx="322.9" cy="1443.0" r="4.7" fill="#fff8f8" stroke="#a83030" stroke-width="1.2"/>
<circle cx="346.4" cy="1418.1" r="4.7" fill="#fff8f8" stroke="#a83030" stroke-width="1.2"/>
<circle cx="369.8" cy="1409.7" r="4.7" fill="#fff8f8" stroke="#a83030" stroke-width="1.2"/>
<circle cx="393.3" cy="1404.8" r="4.7" fill="#fff8f8" stroke="#a83030" stroke-width="1.2"/>
<circle cx="416.8" cy="1414.6" r="4.7" fill="#fff8f8" stroke="#a83030" stroke-width="1.2"/>
<circle cx="440.2" cy="1423.3" r="4.7" fill="#fff8f8" stroke="#a83030" stroke-width="1.2"/>
<circle cx="463.7" cy="1437.6" r="4.7" fill="#fff8f8" stroke="#a83030" stroke-width="1.2"/>
<circle cx="487.1" cy="1487.3" r="4.7" fill="#fff8f8" stroke="#a83030" stroke-width="1.2"/>
<circle cx="510.6" cy="1556.7" r="4.7" fill="#fff8f8" stroke="#a83030" stroke-width="1.2"/>
<circle cx="534.1" cy="1850.0" r="4.7" fill="#fff8f8" stroke="#a83030" stroke-width="1.2"/>
<circle cx="557.5" cy="1860.4" r="4.7" fill="#fff8f8" stroke="#a83030" stroke-width="1.2"/>
<circle cx="581.0" cy="1860.4" r="4.7" fill="#fff8f8" stroke="#a83030" stroke-width="1.2"/>
<circle cx="604.5" cy="1860.4" r="4.7" fill="#fff8f8" stroke="#a83030" stroke-width="1.2"/>
<circle cx="627.9" cy="1860.4" r="4.7" fill="#fff8f8" stroke="#a83030" stroke-width="1.2"/>
<polyline points="158.7,1811.5 182.1,1720.6 205.6,1597.8 229.1,1495.1 252.5,1464.4 276.0,1445.1 299.4,1441.7 322.9,1432.8 346.4,1409.2 369.8,1398.3 393.3,1398.3 416.8,1403.7 440.2,1415.1 463.7,1430.0 487.1,1479.8 510.6,1547.9 534.1,1840.6 557.5,1860.4 581.0,1860.4 604.5,1860.4 627.9,1860.4" fill="none" stroke="#000" stroke-width="2.10" stroke-linejoin="round"/>
<rect x="154.0" y="1806.8" width="9.3" height="9.3" fill="#000"/>
<rect x="177.5" y="1716.0" width="9.3" height="9.3" fill="#000"/>
<rect x="200.9" y="1593.2" width="9.3" height="9.3" fill="#000"/>
<rect x="224.4" y="1490.4" width="9.3" height="9.3" fill="#000"/>
<rect x="247.9" y="1459.7" width="9.3" height="9.3" fill="#000"/>
<rect x="271.3" y="1440.5" width="9.3" height="9.3" fill="#000"/>
<rect x="294.8" y="1437.0" width="9.3" height="9.3" fill="#000"/>
<rect x="318.3" y="1428.1" width="9.3" height="9.3" fill="#000"/>
<rect x="341.7" y="1404.6" width="9.3" height="9.3" fill="#000"/>
<rect x="365.2" y="1393.6" width="9.3" height="9.3" fill="#000"/>
<rect x="388.6" y="1393.6" width="9.3" height="9.3" fill="#000"/>
<rect x="412.1" y="1399.0" width="9.3" height="9.3" fill="#000"/>
<rect x="435.6" y="1410.4" width="9.3" height="9.3" fill="#000"/>
<rect x="459.0" y="1425.4" width="9.3" height="9.3" fill="#000"/>
<rect x="482.5" y="1475.2" width="9.3" height="9.3" fill="#000"/>
<rect x="506.0" y="1543.2" width="9.3" height="9.3" fill="#000"/>
<rect x="529.4" y="1836.0" width="9.3" height="9.3" fill="#000"/>
<rect x="552.9" y="1855.8" width="9.3" height="9.3" fill="#000"/>
<rect x="576.3" y="1855.8" width="9.3" height="9.3" fill="#000"/>
<rect x="599.8" y="1855.8" width="9.3" height="9.3" fill="#000"/>
<rect x="623.3" y="1855.8" width="9.3" height="9.3" fill="#000"/>
<polyline points="205.6,1615.8 229.1,1518.0 252.5,1472.2 276.0,1455.7 299.4,1441.7 322.9,1432.8 346.4,1409.2 369.8,1398.3 393.3,1398.3 416.8,1403.7 440.2,1415.1 463.7,1430.0 487.1,1479.8 510.6,1547.9 534.1,1840.6 557.5,1860.4 581.0,1860.4 604.5,1860.4 627.9,1860.4" fill="none" stroke="#000" stroke-width="2.10" stroke-linejoin="round"/>
<rect x="200.9" y="1611.2" width="9.3" height="9.3" fill="#000"/>
<rect x="224.4" y="1513.3" width="9.3" height="9.3" fill="#000"/>
<rect x="247.9" y="1467.5" width="9.3" height="9.3" fill="#000"/>
<rect x="271.3" y="1451.0" width="9.3" height="9.3" fill="#000"/>
<rect x="294.8" y="1437.0" width="9.3" height="9.3" fill="#000"/>
<rect x="318.3" y="1428.1" width="9.3" height="9.3" fill="#000"/>
<rect x="341.7" y="1404.6" width="9.3" height="9.3" fill="#000"/>
<rect x="365.2" y="1393.6" width="9.3" height="9.3" fill="#000"/>
<rect x="388.6" y="1393.6" width="9.3" height="9.3" fill="#000"/>
<rect x="412.1" y="1399.0" width="9.3" height="9.3" fill="#000"/>
<rect x="435.6" y="1410.4" width="9.3" height="9.3" fill="#000"/>
<rect x="459.0" y="1425.4" width="9.3" height="9.3" fill="#000"/>
<rect x="482.5" y="1475.2" width="9.3" height="9.3" fill="#000"/>
<rect x="506.0" y="1543.2" width="9.3" height="9.3" fill="#000"/>
<rect x="529.4" y="1836.0" width="9.3" height="9.3" fill="#000"/>
<rect x="552.9" y="1855.8" width="9.3" height="9.3" fill="#000"/>
<rect x="576.3" y="1855.8" width="9.3" height="9.3" fill="#000"/>
<rect x="599.8" y="1855.8" width="9.3" height="9.3" fill="#000"/>
<rect x="623.3" y="1855.8" width="9.3" height="9.3" fill="#000"/>
<polyline points="346.4,1860.4 369.8,1856.2 393.3,1851.6 416.8,1850.0 440.2,1841.7 463.7,1819.3 487.1,1771.7 510.6,1696.7 534.1,1420.7 557.5,1400.6 581.0,1398.5 604.5,1400.6 627.9,1387.1 651.4,1379.8 674.8,1386.6 698.3,1391.2 721.8,1385.8 745.2,1384.2 768.7,1399.7 792.1,1435.8 815.6,1808.4 839.1,1857.3" fill="none" stroke="#000" stroke-width="2.10" stroke-linejoin="round"/>
<rect x="341.7" y="1855.8" width="9.3" height="9.3" fill="#000"/>
<rect x="365.2" y="1851.6" width="9.3" height="9.3" fill="#000"/>
<rect x="388.6" y="1846.9" width="9.3" height="9.3" fill="#000"/>
<rect x="412.1" y="1845.3" width="9.3" height="9.3" fill="#000"/>
<rect x="435.6" y="1837.0" width="9.3" height="9.3" fill="#000"/>
<rect x="459.0" y="1814.6" width="9.3" height="9.3" fill="#000"/>
<rect x="482.5" y="1767.0" width="9.3" height="9.3" fill="#000"/>
<rect x="506.0" y="1692.0" width="9.3" height="9.3" fill="#000"/>
<rect x="529.4" y="1416.0" width="9.3" height="9.3" fill="#000"/>
<rect x="552.9" y="1396.0" width="9.3" height="9.3" fill="#000"/>
<rect x="576.3" y="1393.8" width="9.3" height="9.3" fill="#000"/>
<rect x="599.8" y="1396.0" width="9.3" height="9.3" fill="#000"/>
<rect x="623.3" y="1382.4" width="9.3" height="9.3" fill="#000"/>
<rect x="646.7" y="1375.2" width="9.3" height="9.3" fill="#000"/>
<rect x="670.2" y="1381.9" width="9.3" height="9.3" fill="#000"/>
<rect x="693.7" y="1386.6" width="9.3" height="9.3" fill="#000"/>
<rect x="717.1" y="1381.1" width="9.3" height="9.3" fill="#000"/>
<rect x="740.6" y="1379.6" width="9.3" height="9.3" fill="#000"/>
<rect x="764.0" y="1395.0" width="9.3" height="9.3" fill="#000"/>
<rect x="787.5" y="1431.1" width="9.3" height="9.3" fill="#000"/>
<rect x="811.0" y="1803.7" width="9.3" height="9.3" fill="#000"/>
<rect x="834.4" y="1852.6" width="9.3" height="9.3" fill="#000"/>
<polyline points="346.4,1860.4 369.8,1856.2 393.3,1851.0 416.8,1847.4 440.2,1837.0 463.7,1819.3 487.1,1771.9 510.6,1696.7 534.1,1420.4 557.5,1402.7 581.0,1397.5 604.5,1403.7 627.9,1395.4 651.4,1388.1 674.8,1396.4 698.3,1402.7 721.8,1401.3 745.2,1401.3 768.7,1420.0 792.1,1460.7 815.6,1808.4 839.1,1857.3" fill="none" stroke="#b03030" stroke-width="2.10" stroke-linejoin="round"/>
<circle cx="346.4" cy="1860.4" r="4.7" fill="#fff8f8" stroke="#a83030" stroke-width="1.2"/>
<circle cx="369.8" cy="1856.2" r="4.7" fill="#fff8f8" stroke="#a83030" stroke-width="1.2"/>
<circle cx="393.3" cy="1851.0" r="4.7" fill="#fff8f8" stroke="#a83030" stroke-width="1.2"/>
<circle cx="416.8" cy="1847.4" r="4.7" fill="#fff8f8" stroke="#a83030" stroke-width="1.2"/>
<circle cx="440.2" cy="1837.0" r="4.7" fill="#fff8f8" stroke="#a83030" stroke-width="1.2"/>
<circle cx="463.7" cy="1819.3" r="4.7" fill="#fff8f8" stroke="#a83030" stroke-width="1.2"/>
<circle cx="487.1" cy="1771.9" r="4.7" fill="#fff8f8" stroke="#a83030" stroke-width="1.2"/>
<circle cx="510.6" cy="1696.7" r="4.7" fill="#fff8f8" stroke="#a83030" stroke-width="1.2"/>
<circle cx="534.1" cy="1420.4" r="4.7" fill="#fff8f8" stroke="#a83030" stroke-width="1.2"/>
<circle cx="557.5" cy="1402.7" r="4.7" fill="#fff8f8" stroke="#a83030" stroke-width="1.2"/>
<circle cx="581.0" cy="1397.5" r="4.7" fill="#fff8f8" stroke="#a83030" stroke-width="1.2"/>
<circle cx="604.5" cy="1403.7" r="4.7" fill="#fff8f8" stroke="#a83030" stroke-width="1.2"/>
<circle cx="627.9" cy="1395.4" r="4.7" fill="#fff8f8" stroke="#a83030" stroke-width="1.2"/>
<circle cx="651.4" cy="1388.1" r="4.7" fill="#fff8f8" stroke="#a83030" stroke-width="1.2"/>
<circle cx="674.8" cy="1396.4" r="4.7" fill="#fff8f8" stroke="#a83030" stroke-width="1.2"/>
<circle cx="698.3" cy="1402.7" r="4.7" fill="#fff8f8" stroke="#a83030" stroke-width="1.2"/>
<circle cx="721.8" cy="1401.3" r="4.7" fill="#fff8f8" stroke="#a83030" stroke-width="1.2"/>
<circle cx="745.2" cy="1401.3" r="4.7" fill="#fff8f8" stroke="#a83030" stroke-width="1.2"/>
<circle cx="768.7" cy="1420.0" r="4.7" fill="#fff8f8" stroke="#a83030" stroke-width="1.2"/>
<circle cx="792.1" cy="1460.7" r="4.7" fill="#fff8f8" stroke="#a83030" stroke-width="1.2"/>
<circle cx="815.6" cy="1808.4" r="4.7" fill="#fff8f8" stroke="#a83030" stroke-width="1.2"/>
<circle cx="839.1" cy="1857.3" r="4.7" fill="#fff8f8" stroke="#a83030" stroke-width="1.2"/>
<polyline points="346.4,1862.2 369.8,1857.0 393.3,1851.8 416.8,1846.8 440.2,1836.7 463.7,1819.5 487.1,1771.1 510.6,1695.7 534.1,1429.4 557.5,1408.6 581.0,1407.6 604.5,1414.9 627.9,1406.5 651.4,1399.7 674.8,1411.8 698.3,1417.0 721.8,1414.3 745.2,1420.9 768.7,1441.7 792.1,1489.3 815.6,1819.0 839.1,1859.1" fill="none" stroke="#c844c8" stroke-width="2.10" stroke-linejoin="round"/>
<polygon points="346.4,1855.0 353.0,1865.9 339.8,1865.9" fill="#ee00ee"/>
<polygon points="369.8,1849.7 376.4,1860.6 363.2,1860.6" fill="#ee00ee"/>
<polygon points="393.3,1844.5 399.9,1855.4 386.7,1855.4" fill="#ee00ee"/>
<polygon points="416.8,1839.5 423.4,1850.4 410.2,1850.4" fill="#ee00ee"/>
<polygon points="440.2,1829.5 446.8,1840.4 433.6,1840.4" fill="#ee00ee"/>
<polygon points="463.7,1812.3 470.3,1823.2 457.1,1823.2" fill="#ee00ee"/>
<polygon points="487.1,1763.9 493.7,1774.8 480.5,1774.8" fill="#ee00ee"/>
<polygon points="510.6,1688.4 517.2,1699.3 504.0,1699.3" fill="#ee00ee"/>
<polygon points="534.1,1422.1 540.7,1433.0 527.5,1433.0" fill="#ee00ee"/>
<polygon points="557.5,1401.4 564.1,1412.3 550.9,1412.3" fill="#ee00ee"/>
<polygon points="581.0,1400.3 587.6,1411.2 574.4,1411.2" fill="#ee00ee"/>
<polygon points="604.5,1407.7 611.1,1418.6 597.9,1418.6" fill="#ee00ee"/>
<polygon points="627.9,1399.2 634.5,1410.1 621.3,1410.1" fill="#ee00ee"/>
<polygon points="651.4,1392.4 658.0,1403.3 644.8,1403.3" fill="#ee00ee"/>
<polygon points="674.8,1404.5 681.4,1415.4 668.2,1415.4" fill="#ee00ee"/>
<polygon points="698.3,1409.7 704.9,1420.6 691.7,1420.6" fill="#ee00ee"/>
<polygon points="721.8,1407.0 728.4,1417.9 715.2,1417.9" fill="#ee00ee"/>
<polygon points="745.2,1413.7 751.8,1424.6 738.6,1424.6" fill="#ee00ee"/>
<polygon points="768.7,1434.5 775.3,1445.4 762.1,1445.4" fill="#ee00ee"/>
<polygon points="792.1,1482.0 798.7,1492.9 785.5,1492.9" fill="#ee00ee"/>
<polygon points="815.6,1811.8 822.2,1822.7 809.0,1822.7" fill="#ee00ee"/>
<polygon points="839.1,1851.8 845.7,1862.7 832.5,1862.7" fill="#ee00ee"/>
<polyline points="346.4,1858.6 369.8,1855.5 393.3,1849.7 416.8,1848.2 440.2,1839.8 463.7,1817.5 487.1,1769.9 510.6,1694.9 534.1,1432.1 557.5,1419.6 581.0,1411.9 604.5,1416.9 627.9,1411.3 651.4,1416.9 674.8,1428.5 698.3,1433.1 721.8,1439.9 745.2,1449.0 768.7,1479.9 792.1,1541.5 815.6,1789.2 839.1,1855.5" fill="none" stroke="#2a22a8" stroke-width="2.10" stroke-linejoin="round"/>
<polygon points="346.4,1865.9 353.0,1855.0 339.8,1855.0" fill="#0000ee"/>
<polygon points="369.8,1862.7 376.4,1851.8 363.2,1851.8" fill="#0000ee"/>
<polygon points="393.3,1857.0 399.9,1846.1 386.7,1846.1" fill="#0000ee"/>
<polygon points="416.8,1855.4 423.4,1844.5 410.2,1844.5" fill="#0000ee"/>
<polygon points="440.2,1847.1 446.8,1836.2 433.6,1836.2" fill="#0000ee"/>
<polygon points="463.7,1824.7 470.3,1813.8 457.1,1813.8" fill="#0000ee"/>
<polygon points="487.1,1777.1 493.7,1766.2 480.5,1766.2" fill="#0000ee"/>
<polygon points="510.6,1702.1 517.2,1691.2 504.0,1691.2" fill="#0000ee"/>
<polygon points="534.1,1439.3 540.7,1428.4 527.5,1428.4" fill="#0000ee"/>
<polygon points="557.5,1426.8 564.1,1415.9 550.9,1415.9" fill="#0000ee"/>
<polygon points="581.0,1419.1 587.6,1408.2 574.4,1408.2" fill="#0000ee"/>
<polygon points="604.5,1424.1 611.1,1413.2 597.9,1413.2" fill="#0000ee"/>
<polygon points="627.9,1418.6 634.5,1407.7 621.3,1407.7" fill="#0000ee"/>
<polygon points="651.4,1424.1 658.0,1413.2 644.8,1413.2" fill="#0000ee"/>
<polygon points="674.8,1435.7 681.4,1424.8 668.2,1424.8" fill="#0000ee"/>
<polygon points="698.3,1440.4 704.9,1429.5 691.7,1429.5" fill="#0000ee"/>
<polygon points="721.8,1447.1 728.4,1436.2 715.2,1436.2" fill="#0000ee"/>
<polygon points="745.2,1456.3 751.8,1445.4 738.6,1445.4" fill="#0000ee"/>
<polygon points="768.7,1487.2 775.3,1476.3 762.1,1476.3" fill="#0000ee"/>
<polygon points="792.1,1548.8 798.7,1537.9 785.5,1537.9" fill="#0000ee"/>
<polygon points="815.6,1796.4 822.2,1785.5 809.0,1785.5" fill="#0000ee"/>
<polygon points="839.1,1862.7 845.7,1851.8 832.5,1851.8" fill="#0000ee"/>
</g>
<text x="242.65" y="1623.90" font-family='"Liberation Serif", serif' font-size="28.18" textLength="16.19" lengthAdjust="spacingAndGlyphs" fill="#000">1</text>
<text x="264.32" y="1626.95" font-family='"Liberation Serif", serif' font-size="32.17" textLength="21.21" lengthAdjust="spacingAndGlyphs" fill="#000">×</text>
<text x="288.54" y="1623.63" font-family='"Liberation Serif", serif' font-size="27.56" textLength="32.49" lengthAdjust="spacingAndGlyphs" fill="#000">10</text>
<text x="323.66" y="1610.80" font-family='"Liberation Serif", serif' font-size="20.00" textLength="23.20" lengthAdjust="spacingAndGlyphs" fill="#000">14</text>
<text x="363.10" y="1623.66" font-family='"Liberation Serif", serif' font-size="24.95" textLength="41.84" lengthAdjust="spacingAndGlyphs" fill="#000">cm</text>
<text x="408.39" y="1615.73" font-family='"Liberation Serif", serif' font-size="28.11" textLength="16.00" lengthAdjust="spacingAndGlyphs" fill="#000">−</text>
<text x="423.78" y="1610.80" font-family='"Liberation Serif", serif' font-size="19.94" textLength="14.97" lengthAdjust="spacingAndGlyphs" fill="#000">2</text>
<line x1="211.20" y1="1664.40" x2="274.10" y2="1664.40" stroke="#000" stroke-width="2.10"/>
<rect x="238.2" y="1660.1" width="8.6" height="8.6" fill="#000"/>
<line x1="211.20" y1="1696.80" x2="274.10" y2="1696.80" stroke="#b03030" stroke-width="2.10"/>
<circle cx="242.5" cy="1696.8" r="4.371" fill="#fff8f8" stroke="#a83030" stroke-width="1.2"/>
<line x1="211.20" y1="1729.60" x2="274.10" y2="1729.60" stroke="#c844c8" stroke-width="2.10"/>
<polygon points="242.5,1722.8 248.6,1733.0 236.4,1733.0" fill="#ee00ee"/>
<line x1="211.20" y1="1762.40" x2="274.10" y2="1762.40" stroke="#2a22a8" stroke-width="2.10"/>
<polygon points="242.5,1769.2 248.6,1759.0 236.4,1759.0" fill="#0000ee"/>
<text x="286.24" y="1671.43" font-family='"Liberation Serif", serif' font-size="28.00" textLength="195.81" lengthAdjust="spacingAndGlyphs" fill="#000">Unirradiation</text>
<text x="284.57" y="1704.69" font-family='"Liberation Serif", serif' font-size="28.71" textLength="43.04" lengthAdjust="spacingAndGlyphs" fill="#000">1.0</text>
<text x="340.23" y="1704.15" font-family='"Liberation Serif", serif' font-size="29.56" textLength="69.05" lengthAdjust="spacingAndGlyphs" fill="#000">MeV</text>
<text x="284.57" y="1737.20" font-family='"Liberation Serif", serif' font-size="28.56" textLength="43.04" lengthAdjust="spacingAndGlyphs" fill="#000">1.8</text>
<text x="340.23" y="1736.56" font-family='"Liberation Serif", serif' font-size="28.96" textLength="69.05" lengthAdjust="spacingAndGlyphs" fill="#000">MeV</text>
<text x="284.52" y="1769.19" font-family='"Liberation Serif", serif' font-size="29.07" textLength="61.35" lengthAdjust="spacingAndGlyphs" fill="#000">11.5</text>
<text x="358.85" y="1768.55" font-family='"Liberation Serif", serif' font-size="29.41" textLength="67.52" lengthAdjust="spacingAndGlyphs" fill="#000">MeV</text>
<rect x="111.8" y="1340" width="798.0" height="520.4" fill="none" stroke="#000" stroke-width="2.5"/>
</g></svg></body></html>
